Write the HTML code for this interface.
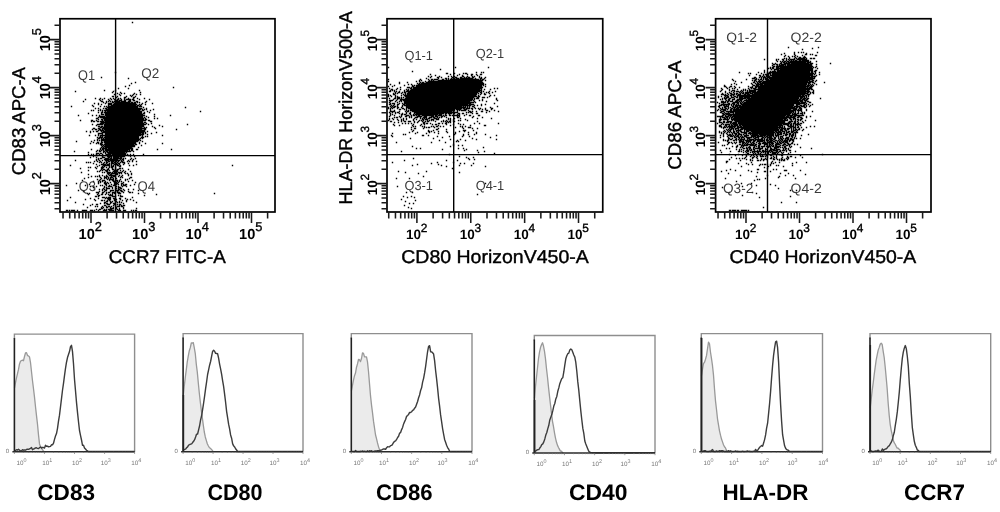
<!DOCTYPE html>
<html lang="en"><head><meta charset="utf-8"><title>Flow cytometry – DC maturation markers</title>
<style>html,body{margin:0;padding:0;background:#fff}body{width:1000px;height:512px;overflow:hidden}svg{display:block;font-family:"Liberation Sans", Arial, Helvetica, sans-serif;will-change:transform;text-rendering:geometricPrecision}</style></head><body>
<svg width="1000" height="512" viewBox="0 0 1000 512">
<rect width="1000" height="512" fill="#fff"/>
<path d="M131.8 22.5h1.4M114.8 72.5h1.4M100.8 77.5h1.4M127.8 78.5h1.4M134.8 82.5h1.4M130.8 83.5h1.4M128.8 85.5h1.4M124.8 86.5h1.4M172.8 87.5h1.4M117.8 88.5h1.4M127.8 88.5h1.4M103.8 90.5h1.4M114.8 90.5h1.4M138.8 90.5h1.4M74.8 91.5h1.4M112.8 91.5h1.4M111.8 92.5h1.4M119.8 92.5h1.4M139.8 92.5h1.4M116.8 93.5h1.4M120.8 93.5h1.4M123.8 93.5h1.4M133.8 93.5h1.4M113.8 94.5h1.4M118.8 94.5h1.4M132.8 94.5h1.4M135.8 94.5h1.4M139.8 94.5h1.4M119.8 95.5h1.4M129.8 95.5h1.4M131.8 95.5h1.4M111.8 96.5h2.4M116.8 96.5h1.4M125.8 96.5h1.4M130.8 96.5h1.4M134.8 96.5h1.4M115.8 97.5h1.4M123.8 97.5h2.4M132.8 97.5h2.4M94.8 98.5h1.4M99.8 98.5h1.4M103.8 98.5h1.4M109.8 98.5h1.4M112.8 98.5h1.4M117.8 98.5h1.4M119.8 98.5h1.4M123.8 98.5h1.4M127.8 98.5h1.4M132.8 98.5h1.4M136.8 98.5h1.4M143.8 98.5h1.4M84.8 99.5h1.4M98.8 99.5h1.4M101.8 99.5h1.4M107.8 99.5h1.4M110.8 99.5h1.4M113.8 99.5h1.4M116.8 99.5h2.4M120.8 99.5h1.4M123.8 99.5h1.4M125.8 99.5h5.4M131.8 99.5h2.4M138.8 99.5h1.4M148.8 99.5h1.4M99.8 100.5h1.4M108.8 100.5h1.4M114.8 100.5h3.4M118.8 100.5h3.4M123.8 100.5h2.4M128.8 100.5h2.4M132.8 100.5h2.4M82.8 101.5h1.4M100.8 101.5h2.4M105.8 101.5h1.4M107.8 101.5h1.4M109.8 101.5h1.4M111.8 101.5h1.4M113.8 101.5h6.4M120.8 101.5h5.4M127.8 101.5h3.4M135.8 101.5h2.4M145.8 101.5h1.4M102.8 102.5h1.4M105.8 102.5h1.4M111.8 102.5h2.4M114.8 102.5h15.4M130.8 102.5h2.4M133.8 102.5h2.4M136.8 102.5h1.4M138.8 102.5h1.4M144.8 102.5h1.4M93.8 103.5h1.4M97.8 103.5h1.4M104.8 103.5h1.4M107.8 103.5h4.4M113.8 103.5h22.4M141.8 103.5h1.4M151.8 103.5h1.4M97.8 104.5h1.4M100.8 104.5h1.4M107.8 104.5h4.4M112.8 104.5h24.4M138.8 104.5h1.4M140.8 104.5h1.4M144.8 104.5h1.4M91.8 105.5h1.4M107.8 105.5h1.4M110.8 105.5h25.4M136.8 105.5h2.4M139.8 105.5h1.4M70.8 106.5h1.4M92.8 106.5h1.4M99.8 106.5h1.4M103.8 106.5h1.4M105.8 106.5h1.4M107.8 106.5h30.4M138.8 106.5h3.4M106.8 107.5h31.4M142.8 107.5h1.4M184.8 107.5h1.4M94.8 108.5h1.4M97.8 108.5h1.4M102.8 108.5h1.4M104.8 108.5h2.4M107.8 108.5h34.4M145.8 108.5h1.4M99.8 109.5h1.4M105.8 109.5h35.4M141.8 109.5h1.4M143.8 109.5h1.4M145.8 109.5h1.4M152.8 109.5h1.4M90.8 110.5h1.4M92.8 110.5h1.4M97.8 110.5h1.4M99.8 110.5h1.4M101.8 110.5h1.4M103.8 110.5h36.4M141.8 110.5h2.4M149.8 110.5h1.4M101.8 111.5h1.4M104.8 111.5h1.4M106.8 111.5h35.4M146.8 111.5h1.4M199.8 111.5h1.4M97.8 112.5h1.4M100.8 112.5h2.4M103.8 112.5h38.4M143.8 112.5h1.4M148.8 112.5h1.4M87.8 113.5h1.4M100.8 113.5h1.4M104.8 113.5h37.4M142.8 113.5h2.4M100.8 114.5h3.4M104.8 114.5h38.4M153.8 114.5h1.4M77.8 115.5h1.4M91.8 115.5h1.4M95.8 115.5h1.4M98.8 115.5h1.4M104.8 115.5h40.4M169.8 115.5h1.4M98.8 116.5h6.4M105.8 116.5h37.4M145.8 116.5h1.4M153.8 116.5h1.4M97.8 117.5h1.4M99.8 117.5h43.4M143.8 117.5h1.4M147.8 117.5h1.4M95.8 118.5h2.4M102.8 118.5h41.4M144.8 118.5h1.4M153.8 118.5h1.4M156.8 118.5h1.4M97.8 119.5h1.4M100.8 119.5h2.4M103.8 119.5h40.4M144.8 119.5h2.4M79.8 120.5h1.4M90.8 120.5h2.4M95.8 120.5h1.4M101.8 120.5h1.4M103.8 120.5h42.4M147.8 120.5h2.4M90.8 121.5h1.4M92.8 121.5h2.4M96.8 121.5h2.4M99.8 121.5h4.4M104.8 121.5h38.4M149.8 121.5h2.4M100.8 122.5h42.4M143.8 122.5h2.4M99.8 123.5h4.4M104.8 123.5h39.4M145.8 123.5h1.4M150.8 123.5h1.4M91.8 124.5h1.4M96.8 124.5h6.4M103.8 124.5h42.4M147.8 124.5h1.4M186.8 124.5h1.4M95.8 125.5h1.4M103.8 125.5h40.4M158.8 125.5h1.4M97.8 126.5h2.4M100.8 126.5h2.4M103.8 126.5h40.4M151.8 126.5h1.4M161.8 126.5h1.4M99.8 127.5h2.4M102.8 127.5h39.4M143.8 127.5h1.4M145.8 127.5h1.4M153.8 127.5h1.4M92.8 128.5h2.4M97.8 128.5h2.4M101.8 128.5h44.4M154.8 128.5h1.4M91.8 129.5h1.4M94.8 129.5h2.4M98.8 129.5h2.4M101.8 129.5h1.4M103.8 129.5h38.4M143.8 129.5h2.4M175.8 129.5h1.4M97.8 130.5h1.4M99.8 130.5h4.4M104.8 130.5h40.4M85.8 131.5h1.4M89.8 131.5h1.4M92.8 131.5h1.4M95.8 131.5h2.4M100.8 131.5h1.4M102.8 131.5h42.4M146.8 131.5h1.4M89.8 132.5h1.4M101.8 132.5h42.4M144.8 132.5h1.4M155.8 132.5h1.4M97.8 133.5h5.4M104.8 133.5h36.4M141.8 133.5h2.4M144.8 133.5h1.4M150.8 133.5h1.4M97.8 134.5h1.4M101.8 134.5h1.4M104.8 134.5h39.4M146.8 134.5h1.4M88.8 135.5h1.4M94.8 135.5h1.4M97.8 135.5h1.4M99.8 135.5h41.4M141.8 135.5h1.4M161.8 135.5h1.4M99.8 136.5h1.4M101.8 136.5h1.4M104.8 136.5h34.4M141.8 136.5h1.4M144.8 136.5h1.4M146.8 136.5h1.4M96.8 137.5h1.4M98.8 137.5h4.4M103.8 137.5h35.4M140.8 137.5h3.4M97.8 138.5h2.4M100.8 138.5h1.4M102.8 138.5h1.4M104.8 138.5h34.4M139.8 138.5h1.4M141.8 138.5h1.4M96.8 139.5h1.4M100.8 139.5h39.4M93.8 140.5h1.4M96.8 140.5h1.4M98.8 140.5h1.4M100.8 140.5h38.4M139.8 140.5h1.4M75.8 141.5h1.4M90.8 141.5h1.4M100.8 141.5h1.4M103.8 141.5h34.4M141.8 141.5h1.4M92.8 142.5h1.4M96.8 142.5h2.4M100.8 142.5h2.4M103.8 142.5h32.4M138.8 142.5h1.4M89.8 143.5h1.4M95.8 143.5h1.4M97.8 143.5h1.4M99.8 143.5h2.4M104.8 143.5h31.4M138.8 143.5h1.4M144.8 143.5h1.4M161.8 143.5h1.4M99.8 144.5h3.4M103.8 144.5h30.4M134.8 144.5h2.4M100.8 145.5h1.4M102.8 145.5h1.4M104.8 145.5h30.4M140.8 145.5h1.4M101.8 146.5h1.4M103.8 146.5h31.4M100.8 147.5h1.4M102.8 147.5h1.4M104.8 147.5h27.4M137.8 147.5h1.4M99.8 148.5h1.4M101.8 148.5h5.4M107.8 148.5h25.4M90.8 149.5h1.4M99.8 149.5h1.4M101.8 149.5h2.4M104.8 149.5h25.4M130.8 149.5h2.4M135.8 149.5h2.4M156.8 149.5h1.4M170.8 149.5h1.4M96.8 150.5h1.4M98.8 150.5h1.4M100.8 150.5h1.4M102.8 150.5h1.4M104.8 150.5h23.4M128.8 150.5h1.4M130.8 150.5h2.4M73.8 151.5h1.4M95.8 151.5h1.4M98.8 151.5h2.4M102.8 151.5h2.4M105.8 151.5h2.4M108.8 151.5h22.4M132.8 151.5h1.4M87.8 152.5h1.4M102.8 152.5h1.4M104.8 152.5h1.4M106.8 152.5h18.4M125.8 152.5h1.4M95.8 153.5h3.4M99.8 153.5h2.4M104.8 153.5h1.4M107.8 153.5h18.4M87.8 154.5h1.4M90.8 154.5h1.4M92.8 154.5h1.4M95.8 154.5h1.4M98.8 154.5h1.4M101.8 154.5h1.4M105.8 154.5h5.4M111.8 154.5h14.4M126.8 154.5h1.4M129.8 154.5h1.4M132.8 154.5h1.4M142.8 154.5h1.4M92.8 155.5h1.4M94.8 155.5h1.4M96.8 155.5h1.4M102.8 155.5h1.4M104.8 155.5h1.4M107.8 155.5h2.4M110.8 155.5h13.4M127.8 155.5h1.4M129.8 155.5h1.4M92.8 156.5h1.4M101.8 156.5h1.4M106.8 156.5h5.4M112.8 156.5h12.4M129.8 156.5h1.4M133.8 156.5h1.4M89.8 157.5h1.4M95.8 157.5h1.4M101.8 157.5h3.4M107.8 157.5h2.4M110.8 157.5h1.4M112.8 157.5h6.4M119.8 157.5h2.4M97.8 158.5h1.4M99.8 158.5h2.4M104.8 158.5h4.4M109.8 158.5h2.4M112.8 158.5h9.4M122.8 158.5h1.4M124.8 158.5h1.4M130.8 158.5h1.4M134.8 158.5h1.4M95.8 159.5h1.4M97.8 159.5h1.4M103.8 159.5h14.4M119.8 159.5h1.4M121.8 159.5h2.4M129.8 159.5h1.4M132.8 159.5h1.4M74.8 160.5h1.4M95.8 160.5h1.4M98.8 160.5h1.4M101.8 160.5h1.4M104.8 160.5h4.4M109.8 160.5h10.4M120.8 160.5h1.4M122.8 160.5h1.4M127.8 160.5h1.4M131.8 160.5h1.4M93.8 161.5h1.4M96.8 161.5h1.4M99.8 161.5h1.4M105.8 161.5h1.4M107.8 161.5h2.4M110.8 161.5h3.4M114.8 161.5h2.4M117.8 161.5h1.4M120.8 161.5h2.4M126.8 161.5h1.4M128.8 161.5h1.4M131.8 161.5h1.4M135.8 161.5h1.4M85.8 162.5h1.4M87.8 162.5h1.4M89.8 162.5h1.4M98.8 162.5h1.4M100.8 162.5h1.4M103.8 162.5h1.4M105.8 162.5h2.4M110.8 162.5h2.4M113.8 162.5h1.4M116.8 162.5h1.4M119.8 162.5h1.4M121.8 162.5h3.4M92.8 163.5h1.4M102.8 163.5h1.4M105.8 163.5h1.4M108.8 163.5h1.4M110.8 163.5h3.4M114.8 163.5h2.4M117.8 163.5h2.4M123.8 163.5h1.4M127.8 163.5h1.4M95.8 164.5h1.4M100.8 164.5h5.4M106.8 164.5h3.4M110.8 164.5h1.4M113.8 164.5h4.4M118.8 164.5h1.4M122.8 164.5h1.4M135.8 164.5h1.4M69.8 165.5h1.4M98.8 165.5h1.4M102.8 165.5h7.4M110.8 165.5h1.4M112.8 165.5h1.4M116.8 165.5h2.4M119.8 165.5h1.4M128.8 165.5h1.4M132.8 165.5h1.4M231.8 165.5h1.4M96.8 166.5h1.4M101.8 166.5h1.4M103.8 166.5h1.4M108.8 166.5h1.4M110.8 166.5h3.4M118.8 166.5h2.4M87.8 167.5h1.4M89.8 167.5h1.4M94.8 167.5h1.4M100.8 167.5h3.4M105.8 167.5h1.4M108.8 167.5h1.4M110.8 167.5h2.4M114.8 167.5h1.4M79.8 168.5h1.4M95.8 168.5h1.4M100.8 168.5h2.4M107.8 168.5h1.4M111.8 168.5h1.4M114.8 168.5h1.4M118.8 168.5h2.4M121.8 168.5h1.4M100.8 169.5h1.4M102.8 169.5h2.4M106.8 169.5h2.4M111.8 169.5h2.4M114.8 169.5h1.4M116.8 169.5h2.4M127.8 169.5h1.4M87.8 170.5h1.4M99.8 170.5h1.4M101.8 170.5h1.4M104.8 170.5h3.4M108.8 170.5h1.4M113.8 170.5h4.4M119.8 170.5h1.4M122.8 170.5h1.4M96.8 171.5h1.4M98.8 171.5h1.4M105.8 171.5h2.4M112.8 171.5h2.4M115.8 171.5h2.4M121.8 171.5h1.4M124.8 171.5h1.4M129.8 171.5h1.4M80.8 172.5h1.4M101.8 172.5h1.4M103.8 172.5h1.4M106.8 172.5h4.4M111.8 172.5h1.4M113.8 172.5h1.4M115.8 172.5h1.4M117.8 172.5h4.4M123.8 172.5h1.4M106.8 173.5h3.4M110.8 173.5h4.4M115.8 173.5h2.4M118.8 173.5h1.4M120.8 173.5h1.4M124.8 173.5h1.4M126.8 173.5h1.4M130.8 173.5h1.4M87.8 174.5h1.4M107.8 174.5h1.4M109.8 174.5h2.4M115.8 174.5h2.4M127.8 174.5h1.4M130.8 174.5h1.4M98.8 175.5h1.4M101.8 175.5h1.4M105.8 175.5h1.4M108.8 175.5h6.4M118.8 175.5h1.4M121.8 175.5h1.4M127.8 175.5h1.4M90.8 176.5h1.4M94.8 176.5h1.4M96.8 176.5h1.4M98.8 176.5h1.4M103.8 176.5h1.4M105.8 176.5h2.4M110.8 176.5h1.4M112.8 176.5h3.4M117.8 176.5h1.4M120.8 176.5h1.4M87.8 177.5h1.4M99.8 177.5h1.4M103.8 177.5h3.4M107.8 177.5h1.4M109.8 177.5h3.4M119.8 177.5h1.4M121.8 177.5h1.4M129.8 177.5h2.4M83.8 178.5h1.4M100.8 178.5h1.4M103.8 178.5h1.4M105.8 178.5h1.4M107.8 178.5h1.4M109.8 178.5h1.4M112.8 178.5h1.4M115.8 178.5h1.4M128.8 178.5h1.4M96.8 179.5h1.4M99.8 179.5h1.4M106.8 179.5h1.4M108.8 179.5h5.4M119.8 179.5h1.4M124.8 179.5h1.4M126.8 179.5h1.4M81.8 180.5h1.4M98.8 180.5h1.4M101.8 180.5h3.4M108.8 180.5h1.4M111.8 180.5h2.4M114.8 180.5h3.4M118.8 180.5h1.4M124.8 180.5h1.4M131.8 180.5h1.4M92.8 181.5h1.4M97.8 181.5h1.4M99.8 181.5h1.4M101.8 181.5h1.4M104.8 181.5h1.4M112.8 181.5h3.4M116.8 181.5h1.4M118.8 181.5h1.4M120.8 181.5h1.4M127.8 181.5h1.4M97.8 182.5h1.4M99.8 182.5h1.4M103.8 182.5h2.4M106.8 182.5h1.4M109.8 182.5h1.4M113.8 182.5h3.4M117.8 182.5h1.4M122.8 182.5h1.4M134.8 182.5h1.4M75.8 183.5h1.4M97.8 183.5h1.4M103.8 183.5h3.4M107.8 183.5h1.4M113.8 183.5h1.4M115.8 183.5h2.4M120.8 183.5h2.4M88.8 184.5h1.4M104.8 184.5h2.4M110.8 184.5h1.4M113.8 184.5h3.4M117.8 184.5h1.4M120.8 184.5h1.4M122.8 184.5h1.4M124.8 184.5h2.4M133.8 184.5h1.4M65.8 185.5h1.4M84.8 185.5h1.4M99.8 185.5h1.4M101.8 185.5h1.4M105.8 185.5h1.4M108.8 185.5h1.4M112.8 185.5h2.4M120.8 185.5h1.4M122.8 185.5h3.4M129.8 185.5h1.4M89.8 186.5h1.4M92.8 186.5h1.4M95.8 186.5h1.4M103.8 186.5h1.4M107.8 186.5h4.4M115.8 186.5h1.4M117.8 186.5h1.4M121.8 186.5h1.4M125.8 186.5h1.4M92.8 187.5h1.4M103.8 187.5h1.4M105.8 187.5h1.4M111.8 187.5h1.4M114.8 187.5h1.4M117.8 187.5h3.4M102.8 188.5h1.4M105.8 188.5h4.4M111.8 188.5h1.4M114.8 188.5h2.4M117.8 188.5h1.4M119.8 188.5h2.4M93.8 189.5h1.4M98.8 189.5h1.4M101.8 189.5h1.4M103.8 189.5h1.4M105.8 189.5h1.4M114.8 189.5h1.4M117.8 189.5h2.4M122.8 189.5h1.4M127.8 189.5h1.4M132.8 189.5h1.4M77.8 190.5h1.4M101.8 190.5h1.4M104.8 190.5h2.4M109.8 190.5h4.4M115.8 190.5h3.4M119.8 190.5h2.4M123.8 190.5h1.4M137.8 190.5h1.4M82.8 191.5h1.4M98.8 191.5h1.4M103.8 191.5h1.4M109.8 191.5h1.4M114.8 191.5h1.4M116.8 191.5h1.4M120.8 191.5h2.4M127.8 191.5h1.4M95.8 192.5h3.4M101.8 192.5h2.4M105.8 192.5h1.4M107.8 192.5h2.4M111.8 192.5h3.4M116.8 192.5h3.4M122.8 192.5h1.4M128.8 192.5h2.4M131.8 192.5h1.4M86.8 193.5h1.4M88.8 193.5h1.4M97.8 193.5h1.4M101.8 193.5h1.4M105.8 193.5h1.4M111.8 193.5h1.4M113.8 193.5h1.4M117.8 193.5h3.4M137.8 193.5h1.4M213.8 193.5h1.4M87.8 194.5h1.4M96.8 194.5h1.4M100.8 194.5h2.4M104.8 194.5h1.4M107.8 194.5h1.4M109.8 194.5h1.4M111.8 194.5h1.4M155.8 194.5h1.4M97.8 195.5h2.4M108.8 195.5h4.4M117.8 195.5h1.4M119.8 195.5h1.4M143.8 195.5h1.4M94.8 196.5h2.4M97.8 196.5h1.4M111.8 196.5h4.4M119.8 196.5h3.4M69.8 197.5h1.4M101.8 197.5h3.4M105.8 197.5h1.4M107.8 197.5h3.4M131.8 197.5h1.4M89.8 198.5h1.4M97.8 198.5h1.4M104.8 198.5h1.4M106.8 198.5h4.4M112.8 198.5h3.4M118.8 198.5h2.4M124.8 198.5h1.4M84.8 199.5h1.4M93.8 199.5h1.4M107.8 199.5h3.4M113.8 199.5h1.4M115.8 199.5h1.4M119.8 199.5h1.4M126.8 199.5h1.4M129.8 199.5h1.4M66.8 200.5h1.4M94.8 200.5h1.4M100.8 200.5h2.4M103.8 200.5h1.4M106.8 200.5h1.4M108.8 200.5h1.4M113.8 200.5h2.4M121.8 200.5h1.4M125.8 200.5h1.4M132.8 200.5h1.4M105.8 201.5h2.4M109.8 201.5h1.4M111.8 201.5h1.4M114.8 201.5h2.4M118.8 201.5h1.4M125.8 201.5h1.4M74.8 202.5h1.4M103.8 202.5h2.4M109.8 202.5h2.4M114.8 202.5h1.4M116.8 202.5h1.4M118.8 202.5h1.4M120.8 202.5h1.4M135.8 202.5h1.4M99.8 203.5h1.4M103.8 203.5h1.4M105.8 203.5h2.4M109.8 203.5h1.4M112.8 203.5h2.4M122.8 203.5h1.4M82.8 204.5h1.4M91.8 204.5h1.4M95.8 204.5h2.4M106.8 204.5h3.4M113.8 204.5h2.4M116.8 204.5h1.4M118.8 204.5h2.4M89.8 205.5h1.4M103.8 205.5h2.4M112.8 205.5h1.4M114.8 205.5h1.4M118.8 205.5h1.4M120.8 205.5h1.4M122.8 205.5h2.4M94.8 206.5h1.4M96.8 206.5h1.4M101.8 206.5h1.4M105.8 206.5h1.4M107.8 206.5h2.4M110.8 206.5h1.4M114.8 206.5h1.4M116.8 206.5h3.4M120.8 206.5h2.4M86.8 207.5h1.4M100.8 207.5h1.4M102.8 207.5h1.4M105.8 207.5h2.4M109.8 207.5h1.4M112.8 207.5h1.4M115.8 207.5h1.4M122.8 207.5h1.4M100.8 208.5h2.4M109.8 208.5h4.4M115.8 208.5h1.4M118.8 208.5h1.4M122.8 208.5h1.4M135.8 208.5h1.4M95.8 209.5h1.4M98.8 209.5h2.4M103.8 209.5h1.4M105.8 209.5h1.4M107.8 209.5h4.4M114.8 209.5h1.4M116.8 209.5h1.4M118.8 209.5h1.4M65.8 210.5h2.4M68.8 210.5h1.4M70.8 210.5h4.4M76.8 210.5h1.4M81.8 210.5h5.4M89.8 210.5h3.4M93.8 210.5h1.4M97.8 210.5h1.4M102.8 210.5h4.4M108.8 210.5h5.4M117.8 210.5h3.4M122.8 210.5h3.4M130.8 210.5h1.4M132.8 210.5h1.4M134.8 210.5h2.4" stroke="#000" stroke-width="1.45" fill="none"/>
<text x="78" y="79.5" font-size="14" fill="#3a3a3a" textLength="17" lengthAdjust="spacingAndGlyphs">Q1</text>
<text x="141.2" y="77.5" font-size="14" fill="#3a3a3a" textLength="18" lengthAdjust="spacingAndGlyphs">Q2</text>
<text x="78.7" y="191.3" font-size="14" fill="#3a3a3a" textLength="17.3" lengthAdjust="spacingAndGlyphs">Q3</text>
<text x="137.5" y="191.3" font-size="14" fill="#3a3a3a" textLength="17.5" lengthAdjust="spacingAndGlyphs">Q4</text>
<rect x="60" y="18.75" width="215" height="193.25" fill="none" stroke="#000" stroke-width="1.7"/>
<path d="M115.6 18.75V212M60 155.6H275" stroke="#000" stroke-width="1.4" fill="none"/>
<path d="M91 212v11M144.5 212v11M198 212v11M251.5 212v11M63.03 212v6.5M69.71 212v6.5M74.89 212v6.5M79.13 212v6.5M82.71 212v6.5M85.82 212v6.5M88.55 212v6.5M107.11 212v6.5M116.53 212v6.5M123.21 212v6.5M128.39 212v6.5M132.63 212v6.5M136.21 212v6.5M139.32 212v6.5M142.05 212v6.5M160.61 212v6.5M170.03 212v6.5M176.71 212v6.5M181.89 212v6.5M186.13 212v6.5M189.71 212v6.5M192.82 212v6.5M195.55 212v6.5M214.11 212v6.5M223.53 212v6.5M230.21 212v6.5M235.39 212v6.5M239.63 212v6.5M243.21 212v6.5M246.32 212v6.5M249.05 212v6.5M267.61 212v6.5M60 183.6h-10M60 135.6h-10M60 87.6h-10M60 39.6h-10M60 208.7h-5.5M60 202.7h-5.5M60 198.05h-5.5M60 194.25h-5.5M60 191.04h-5.5M60 188.25h-5.5M60 185.8h-5.5M60 169.15h-5.5M60 160.7h-5.5M60 154.7h-5.5M60 150.05h-5.5M60 146.25h-5.5M60 143.04h-5.5M60 140.25h-5.5M60 137.8h-5.5M60 121.15h-5.5M60 112.7h-5.5M60 106.7h-5.5M60 102.05h-5.5M60 98.25h-5.5M60 95.04h-5.5M60 92.25h-5.5M60 89.8h-5.5M60 73.15h-5.5M60 64.7h-5.5M60 58.7h-5.5M60 54.05h-5.5M60 50.25h-5.5M60 47.04h-5.5M60 44.25h-5.5M60 41.8h-5.5M60 25.15h-5.5" stroke="#1a1a1a" stroke-width="1.55" fill="none"/>
<text x="78.61" y="239.4" font-size="14.6" font-weight="bold">10<tspan dy="-8.18" dx="-0.2" font-size="12.85" font-weight="normal" stroke="#000" stroke-width="0.35">2</tspan></text>
<text x="132.1" y="239.4" font-size="14.6" font-weight="bold">10<tspan dy="-8.18" dx="-0.2" font-size="12.85" font-weight="normal" stroke="#000" stroke-width="0.35">3</tspan></text>
<text x="185.6" y="239.4" font-size="14.6" font-weight="bold">10<tspan dy="-8.18" dx="-0.2" font-size="12.85" font-weight="normal" stroke="#000" stroke-width="0.35">4</tspan></text>
<text x="239.1" y="239.4" font-size="14.6" font-weight="bold">10<tspan dy="-8.18" dx="-0.2" font-size="12.85" font-weight="normal" stroke="#000" stroke-width="0.35">5</tspan></text>
<text transform="translate(49.5 195.29) rotate(-90)" font-size="14.6" font-weight="bold">10<tspan dy="-8.18" dx="-0.2" font-size="12.85" font-weight="normal" stroke="#000" stroke-width="0.35">2</tspan></text>
<text transform="translate(49.5 147.29) rotate(-90)" font-size="14.6" font-weight="bold">10<tspan dy="-8.18" dx="-0.2" font-size="12.85" font-weight="normal" stroke="#000" stroke-width="0.35">3</tspan></text>
<text transform="translate(49.5 99.29) rotate(-90)" font-size="14.6" font-weight="bold">10<tspan dy="-8.18" dx="-0.2" font-size="12.85" font-weight="normal" stroke="#000" stroke-width="0.35">4</tspan></text>
<text transform="translate(49.5 51.29) rotate(-90)" font-size="14.6" font-weight="bold">10<tspan dy="-8.18" dx="-0.2" font-size="12.85" font-weight="normal" stroke="#000" stroke-width="0.35">5</tspan></text>
<text x="108.75" y="263.3" font-size="18.5" textLength="117" lengthAdjust="spacingAndGlyphs" stroke="#000" stroke-width="0.4">CCR7 FITC-A</text>
<text transform="translate(25.2 175.2) rotate(-90)" font-size="18.5" textLength="108.2" lengthAdjust="spacingAndGlyphs" stroke="#000" stroke-width="0.4">CD83 APC-A</text>
<path d="M387.8 67.5h1.4M454.8 67.5h1.4M487.8 67.5h1.4M439.8 69.5h1.4M411.8 71.5h1.4M475.8 72.5h1.4M480.8 72.5h1.4M482.8 72.5h1.4M445.8 73.5h2.4M453.8 73.5h1.4M462.8 73.5h1.4M464.8 73.5h2.4M429.8 74.5h1.4M449.8 74.5h1.4M458.8 74.5h1.4M466.8 74.5h1.4M470.8 74.5h2.4M475.8 74.5h1.4M479.8 74.5h2.4M434.8 75.5h1.4M456.8 75.5h1.4M461.8 75.5h1.4M470.8 75.5h1.4M476.8 75.5h1.4M427.8 76.5h1.4M430.8 76.5h1.4M438.8 76.5h1.4M447.8 76.5h1.4M450.8 76.5h1.4M453.8 76.5h1.4M461.8 76.5h2.4M466.8 76.5h1.4M471.8 76.5h1.4M473.8 76.5h1.4M478.8 76.5h1.4M429.8 77.5h1.4M436.8 77.5h2.4M440.8 77.5h1.4M451.8 77.5h2.4M454.8 77.5h2.4M459.8 77.5h2.4M463.8 77.5h1.4M465.8 77.5h1.4M467.8 77.5h2.4M471.8 77.5h2.4M478.8 77.5h1.4M480.8 77.5h1.4M484.8 77.5h1.4M425.8 78.5h1.4M437.8 78.5h1.4M444.8 78.5h2.4M447.8 78.5h1.4M450.8 78.5h1.4M452.8 78.5h2.4M455.8 78.5h3.4M459.8 78.5h13.4M474.8 78.5h1.4M479.8 78.5h2.4M483.8 78.5h1.4M387.8 79.5h1.4M419.8 79.5h1.4M427.8 79.5h1.4M430.8 79.5h2.4M433.8 79.5h4.4M441.8 79.5h2.4M445.8 79.5h1.4M447.8 79.5h1.4M449.8 79.5h29.4M479.8 79.5h1.4M481.8 79.5h2.4M418.8 80.5h1.4M420.8 80.5h1.4M428.8 80.5h1.4M430.8 80.5h1.4M432.8 80.5h1.4M437.8 80.5h45.4M484.8 80.5h1.4M387.8 81.5h1.4M415.8 81.5h1.4M418.8 81.5h1.4M424.8 81.5h1.4M427.8 81.5h54.4M398.8 82.5h1.4M406.8 82.5h1.4M419.8 82.5h1.4M421.8 82.5h2.4M425.8 82.5h57.4M398.8 83.5h1.4M416.8 83.5h1.4M418.8 83.5h1.4M420.8 83.5h63.4M389.8 84.5h1.4M407.8 84.5h1.4M410.8 84.5h1.4M417.8 84.5h66.4M484.8 84.5h1.4M393.8 85.5h1.4M403.8 85.5h1.4M411.8 85.5h1.4M413.8 85.5h1.4M415.8 85.5h66.4M482.8 85.5h1.4M387.8 86.5h1.4M391.8 86.5h1.4M411.8 86.5h2.4M415.8 86.5h66.4M484.8 86.5h1.4M399.8 87.5h1.4M406.8 87.5h3.4M410.8 87.5h1.4M412.8 87.5h70.4M388.8 88.5h1.4M396.8 88.5h1.4M409.8 88.5h2.4M412.8 88.5h69.4M493.8 88.5h1.4M496.8 88.5h1.4M390.8 89.5h2.4M395.8 89.5h1.4M399.8 89.5h1.4M405.8 89.5h1.4M407.8 89.5h1.4M410.8 89.5h69.4M480.8 89.5h1.4M483.8 89.5h1.4M489.8 89.5h1.4M389.8 90.5h1.4M391.8 90.5h1.4M393.8 90.5h1.4M403.8 90.5h1.4M406.8 90.5h2.4M409.8 90.5h72.4M388.8 91.5h2.4M393.8 91.5h1.4M395.8 91.5h1.4M398.8 91.5h1.4M403.8 91.5h1.4M405.8 91.5h74.4M480.8 91.5h1.4M482.8 91.5h1.4M488.8 91.5h1.4M494.8 91.5h1.4M394.8 92.5h1.4M397.8 92.5h2.4M401.8 92.5h1.4M403.8 92.5h2.4M407.8 92.5h70.4M479.8 92.5h2.4M485.8 92.5h1.4M487.8 92.5h1.4M491.8 92.5h1.4M392.8 93.5h1.4M394.8 93.5h1.4M396.8 93.5h1.4M400.8 93.5h1.4M404.8 93.5h1.4M406.8 93.5h70.4M477.8 93.5h1.4M480.8 93.5h1.4M483.8 93.5h1.4M488.8 93.5h1.4M387.8 94.5h1.4M392.8 94.5h2.4M402.8 94.5h1.4M404.8 94.5h1.4M406.8 94.5h70.4M479.8 94.5h1.4M483.8 94.5h2.4M387.8 95.5h1.4M389.8 95.5h1.4M394.8 95.5h1.4M400.8 95.5h1.4M403.8 95.5h72.4M477.8 95.5h1.4M489.8 95.5h1.4M493.8 95.5h1.4M387.8 96.5h1.4M390.8 96.5h1.4M394.8 96.5h1.4M396.8 96.5h1.4M404.8 96.5h72.4M477.8 96.5h2.4M488.8 96.5h1.4M394.8 97.5h1.4M396.8 97.5h3.4M400.8 97.5h1.4M402.8 97.5h1.4M405.8 97.5h68.4M476.8 97.5h2.4M481.8 97.5h3.4M486.8 97.5h1.4M388.8 98.5h1.4M393.8 98.5h2.4M396.8 98.5h3.4M400.8 98.5h1.4M404.8 98.5h68.4M473.8 98.5h1.4M475.8 98.5h3.4M495.8 98.5h1.4M392.8 99.5h1.4M396.8 99.5h1.4M399.8 99.5h73.4M473.8 99.5h1.4M481.8 99.5h1.4M495.8 99.5h1.4M388.8 100.5h4.4M395.8 100.5h1.4M399.8 100.5h2.4M402.8 100.5h69.4M472.8 100.5h1.4M478.8 100.5h1.4M481.8 100.5h1.4M496.8 100.5h1.4M389.8 101.5h1.4M394.8 101.5h1.4M398.8 101.5h1.4M400.8 101.5h1.4M403.8 101.5h66.4M473.8 101.5h1.4M485.8 101.5h1.4M388.8 102.5h1.4M396.8 102.5h1.4M403.8 102.5h70.4M474.8 102.5h1.4M389.8 103.5h1.4M391.8 103.5h3.4M398.8 103.5h1.4M401.8 103.5h1.4M403.8 103.5h67.4M493.8 103.5h1.4M388.8 104.5h2.4M393.8 104.5h1.4M396.8 104.5h2.4M402.8 104.5h2.4M405.8 104.5h62.4M468.8 104.5h5.4M480.8 104.5h1.4M484.8 104.5h1.4M390.8 105.5h1.4M392.8 105.5h1.4M396.8 105.5h1.4M401.8 105.5h1.4M403.8 105.5h67.4M473.8 105.5h1.4M476.8 105.5h1.4M480.8 105.5h1.4M389.8 106.5h1.4M391.8 106.5h1.4M393.8 106.5h2.4M396.8 106.5h1.4M401.8 106.5h1.4M405.8 106.5h56.4M462.8 106.5h1.4M464.8 106.5h1.4M466.8 106.5h1.4M468.8 106.5h1.4M471.8 106.5h2.4M496.8 106.5h1.4M387.8 107.5h1.4M390.8 107.5h1.4M392.8 107.5h2.4M396.8 107.5h2.4M400.8 107.5h1.4M405.8 107.5h60.4M466.8 107.5h1.4M468.8 107.5h1.4M473.8 107.5h1.4M489.8 107.5h1.4M387.8 108.5h1.4M389.8 108.5h1.4M391.8 108.5h1.4M396.8 108.5h1.4M401.8 108.5h2.4M405.8 108.5h1.4M407.8 108.5h54.4M462.8 108.5h2.4M465.8 108.5h4.4M470.8 108.5h2.4M474.8 108.5h1.4M477.8 108.5h1.4M479.8 108.5h1.4M484.8 108.5h1.4M490.8 108.5h2.4M389.8 109.5h1.4M398.8 109.5h2.4M403.8 109.5h1.4M405.8 109.5h1.4M409.8 109.5h45.4M455.8 109.5h5.4M463.8 109.5h3.4M471.8 109.5h1.4M478.8 109.5h1.4M481.8 109.5h1.4M484.8 109.5h1.4M490.8 109.5h1.4M389.8 110.5h1.4M393.8 110.5h1.4M405.8 110.5h1.4M407.8 110.5h1.4M409.8 110.5h45.4M456.8 110.5h1.4M458.8 110.5h1.4M460.8 110.5h5.4M467.8 110.5h1.4M485.8 110.5h2.4M493.8 110.5h1.4M389.8 111.5h5.4M398.8 111.5h1.4M404.8 111.5h1.4M406.8 111.5h2.4M411.8 111.5h40.4M452.8 111.5h1.4M456.8 111.5h1.4M468.8 111.5h2.4M471.8 111.5h1.4M475.8 111.5h1.4M480.8 111.5h2.4M488.8 111.5h1.4M497.8 111.5h1.4M388.8 112.5h1.4M391.8 112.5h1.4M394.8 112.5h1.4M396.8 112.5h2.4M405.8 112.5h1.4M409.8 112.5h1.4M413.8 112.5h44.4M465.8 112.5h1.4M467.8 112.5h1.4M469.8 112.5h2.4M485.8 112.5h1.4M389.8 113.5h1.4M394.8 113.5h1.4M398.8 113.5h1.4M401.8 113.5h1.4M405.8 113.5h1.4M408.8 113.5h2.4M413.8 113.5h1.4M415.8 113.5h28.4M444.8 113.5h2.4M447.8 113.5h4.4M452.8 113.5h2.4M457.8 113.5h2.4M461.8 113.5h2.4M471.8 113.5h1.4M475.8 113.5h2.4M389.8 114.5h1.4M391.8 114.5h1.4M400.8 114.5h2.4M403.8 114.5h2.4M409.8 114.5h1.4M412.8 114.5h1.4M414.8 114.5h23.4M438.8 114.5h3.4M444.8 114.5h1.4M448.8 114.5h1.4M456.8 114.5h1.4M458.8 114.5h1.4M465.8 114.5h1.4M389.8 115.5h1.4M393.8 115.5h1.4M400.8 115.5h1.4M405.8 115.5h3.4M410.8 115.5h1.4M412.8 115.5h2.4M415.8 115.5h1.4M417.8 115.5h2.4M421.8 115.5h12.4M434.8 115.5h2.4M437.8 115.5h4.4M442.8 115.5h1.4M444.8 115.5h2.4M448.8 115.5h2.4M451.8 115.5h8.4M463.8 115.5h1.4M468.8 115.5h2.4M477.8 115.5h2.4M388.8 116.5h1.4M398.8 116.5h1.4M400.8 116.5h1.4M404.8 116.5h2.4M408.8 116.5h1.4M410.8 116.5h1.4M416.8 116.5h5.4M423.8 116.5h3.4M430.8 116.5h3.4M434.8 116.5h3.4M440.8 116.5h2.4M443.8 116.5h1.4M456.8 116.5h1.4M458.8 116.5h1.4M472.8 116.5h1.4M393.8 117.5h1.4M395.8 117.5h2.4M399.8 117.5h1.4M408.8 117.5h1.4M410.8 117.5h1.4M414.8 117.5h3.4M419.8 117.5h1.4M422.8 117.5h4.4M428.8 117.5h3.4M432.8 117.5h2.4M436.8 117.5h1.4M438.8 117.5h1.4M440.8 117.5h1.4M445.8 117.5h1.4M456.8 117.5h2.4M471.8 117.5h1.4M481.8 117.5h1.4M388.8 118.5h1.4M391.8 118.5h1.4M402.8 118.5h1.4M405.8 118.5h1.4M413.8 118.5h1.4M419.8 118.5h1.4M421.8 118.5h1.4M423.8 118.5h1.4M425.8 118.5h1.4M427.8 118.5h2.4M433.8 118.5h3.4M437.8 118.5h1.4M447.8 118.5h1.4M449.8 118.5h1.4M453.8 118.5h1.4M459.8 118.5h1.4M476.8 118.5h1.4M490.8 118.5h1.4M388.8 119.5h1.4M392.8 119.5h1.4M396.8 119.5h1.4M400.8 119.5h1.4M402.8 119.5h1.4M405.8 119.5h1.4M412.8 119.5h1.4M415.8 119.5h1.4M421.8 119.5h2.4M424.8 119.5h3.4M430.8 119.5h3.4M435.8 119.5h3.4M447.8 119.5h1.4M449.8 119.5h1.4M452.8 119.5h1.4M464.8 119.5h1.4M387.8 120.5h1.4M397.8 120.5h1.4M400.8 120.5h1.4M402.8 120.5h1.4M412.8 120.5h1.4M418.8 120.5h1.4M420.8 120.5h1.4M422.8 120.5h1.4M426.8 120.5h1.4M428.8 120.5h1.4M430.8 120.5h1.4M432.8 120.5h1.4M442.8 120.5h1.4M445.8 120.5h1.4M449.8 120.5h1.4M452.8 120.5h1.4M457.8 120.5h1.4M459.8 120.5h1.4M466.8 120.5h1.4M389.8 121.5h2.4M400.8 121.5h1.4M403.8 121.5h2.4M407.8 121.5h3.4M413.8 121.5h1.4M417.8 121.5h1.4M421.8 121.5h1.4M424.8 121.5h1.4M426.8 121.5h2.4M434.8 121.5h1.4M440.8 121.5h1.4M442.8 121.5h1.4M444.8 121.5h1.4M446.8 121.5h1.4M448.8 121.5h2.4M452.8 121.5h2.4M476.8 121.5h1.4M393.8 122.5h1.4M397.8 122.5h1.4M413.8 122.5h1.4M416.8 122.5h1.4M422.8 122.5h2.4M445.8 122.5h1.4M447.8 122.5h1.4M449.8 122.5h1.4M401.8 123.5h1.4M404.8 123.5h1.4M407.8 123.5h1.4M410.8 123.5h1.4M422.8 123.5h2.4M425.8 123.5h2.4M429.8 123.5h1.4M437.8 123.5h2.4M441.8 123.5h1.4M444.8 123.5h2.4M457.8 123.5h1.4M473.8 123.5h1.4M478.8 123.5h1.4M497.8 123.5h1.4M392.8 124.5h1.4M412.8 124.5h1.4M420.8 124.5h1.4M423.8 124.5h1.4M431.8 124.5h1.4M434.8 124.5h2.4M445.8 124.5h1.4M452.8 124.5h1.4M459.8 124.5h1.4M462.8 124.5h1.4M393.8 125.5h1.4M398.8 125.5h1.4M411.8 125.5h1.4M419.8 125.5h1.4M437.8 125.5h1.4M449.8 125.5h1.4M469.8 125.5h1.4M483.8 125.5h2.4M412.8 126.5h1.4M414.8 126.5h1.4M421.8 126.5h1.4M423.8 126.5h1.4M430.8 126.5h1.4M432.8 126.5h1.4M435.8 126.5h2.4M439.8 126.5h1.4M442.8 126.5h1.4M459.8 126.5h1.4M461.8 126.5h1.4M464.8 126.5h1.4M410.8 127.5h1.4M423.8 127.5h1.4M425.8 127.5h1.4M427.8 127.5h2.4M433.8 127.5h1.4M454.8 127.5h1.4M461.8 127.5h1.4M467.8 127.5h3.4M413.8 128.5h2.4M422.8 128.5h1.4M437.8 128.5h1.4M462.8 128.5h1.4M471.8 128.5h1.4M476.8 128.5h1.4M410.8 129.5h1.4M435.8 129.5h2.4M445.8 129.5h1.4M412.8 130.5h1.4M427.8 130.5h1.4M432.8 130.5h1.4M462.8 130.5h3.4M472.8 130.5h1.4M411.8 131.5h1.4M427.8 131.5h2.4M430.8 131.5h1.4M437.8 131.5h1.4M445.8 131.5h1.4M458.8 131.5h1.4M463.8 131.5h1.4M408.8 132.5h1.4M416.8 132.5h1.4M428.8 132.5h1.4M433.8 132.5h1.4M446.8 132.5h1.4M454.8 132.5h1.4M467.8 132.5h1.4M475.8 132.5h1.4M391.8 133.5h1.4M414.8 133.5h1.4M425.8 133.5h1.4M437.8 133.5h1.4M454.8 133.5h1.4M475.8 133.5h1.4M402.8 134.5h1.4M404.8 134.5h1.4M453.8 134.5h1.4M462.8 134.5h1.4M467.8 134.5h1.4M473.8 134.5h1.4M484.8 134.5h1.4M390.8 135.5h1.4M421.8 135.5h2.4M427.8 135.5h1.4M462.8 135.5h1.4M495.8 135.5h1.4M391.8 136.5h1.4M436.8 136.5h1.4M448.8 136.5h1.4M461.8 136.5h1.4M468.8 136.5h1.4M441.8 137.5h1.4M489.8 137.5h1.4M409.8 138.5h1.4M432.8 138.5h1.4M471.8 138.5h1.4M449.8 139.5h1.4M459.8 139.5h1.4M475.8 139.5h1.4M495.8 139.5h1.4M438.8 140.5h1.4M456.8 140.5h1.4M464.8 140.5h1.4M455.8 141.5h1.4M457.8 141.5h1.4M395.8 142.5h1.4M430.8 142.5h1.4M444.8 142.5h1.4M452.8 144.5h1.4M452.8 145.5h1.4M457.8 145.5h1.4M461.8 145.5h1.4M411.8 146.5h1.4M449.8 146.5h1.4M482.8 147.5h1.4M415.8 148.5h1.4M419.8 148.5h1.4M457.8 148.5h1.4M462.8 148.5h1.4M441.8 149.5h1.4M465.8 149.5h1.4M463.8 150.5h1.4M476.8 150.5h1.4M400.8 151.5h1.4M483.8 151.5h1.4M477.8 152.5h1.4M493.8 153.5h1.4M448.8 154.5h1.4M458.8 156.5h1.4M465.8 157.5h1.4M472.8 157.5h1.4M412.8 158.5h1.4M467.8 158.5h1.4M468.8 159.5h1.4M473.8 159.5h1.4M403.8 160.5h1.4M445.8 160.5h1.4M456.8 160.5h1.4M391.8 162.5h1.4M436.8 162.5h1.4M452.8 162.5h1.4M430.8 163.5h1.4M459.8 163.5h1.4M463.8 163.5h1.4M472.8 163.5h1.4M416.8 164.5h1.4M437.8 164.5h1.4M411.8 165.5h1.4M440.8 165.5h1.4M458.8 165.5h1.4M470.8 165.5h1.4M445.8 166.5h1.4M484.8 166.5h1.4M451.8 168.5h1.4M397.8 171.5h1.4M425.8 171.5h1.4M404.8 172.5h1.4M458.8 172.5h1.4M417.8 173.5h1.4M422.8 176.5h1.4M395.8 178.5h1.4M408.8 178.5h1.4M484.8 183.5h1.4M396.8 186.5h1.4M405.8 192.5h1.4M411.8 192.5h1.4M476.8 194.5h1.4M402.8 196.5h1.4M410.8 196.5h1.4M406.8 197.5h1.4M413.8 197.5h1.4M400.8 199.5h1.4M414.8 200.5h1.4M404.8 201.5h1.4M408.8 203.5h1.4M412.8 203.5h1.4M403.8 205.5h1.4M407.8 207.5h1.4M410.8 208.5h1.4" stroke="#000" stroke-width="1.45" fill="none"/>
<text x="404.5" y="59.6" font-size="13.2" fill="#3a3a3a" textLength="28.5" lengthAdjust="spacingAndGlyphs">Q1-1</text>
<text x="475.7" y="57.6" font-size="13.2" fill="#3a3a3a" textLength="28.5" lengthAdjust="spacingAndGlyphs">Q2-1</text>
<text x="404.5" y="190.1" font-size="13.2" fill="#3a3a3a" textLength="28.5" lengthAdjust="spacingAndGlyphs">Q3-1</text>
<text x="475.7" y="190.1" font-size="13.2" fill="#3a3a3a" textLength="28.5" lengthAdjust="spacingAndGlyphs">Q4-1</text>
<rect x="387" y="18.75" width="215.75" height="193.25" fill="none" stroke="#000" stroke-width="1.7"/>
<path d="M453.7 18.75V212M387 154.6H602.75" stroke="#000" stroke-width="1.4" fill="none"/>
<path d="M416.9 212v11M470.77 212v11M524.64 212v11M578.51 212v11M388.73 212v6.5M395.46 212v6.5M400.68 212v6.5M404.95 212v6.5M408.56 212v6.5M411.68 212v6.5M414.44 212v6.5M433.12 212v6.5M442.6 212v6.5M449.33 212v6.5M454.55 212v6.5M458.82 212v6.5M462.43 212v6.5M465.55 212v6.5M468.31 212v6.5M486.99 212v6.5M496.47 212v6.5M503.2 212v6.5M508.42 212v6.5M512.69 212v6.5M516.3 212v6.5M519.42 212v6.5M522.18 212v6.5M540.86 212v6.5M550.34 212v6.5M557.07 212v6.5M562.29 212v6.5M566.56 212v6.5M570.17 212v6.5M573.29 212v6.5M576.05 212v6.5M594.73 212v6.5M387 183.6h-10M387 135.6h-10M387 87.6h-10M387 39.6h-10M387 208.7h-5.5M387 202.7h-5.5M387 198.05h-5.5M387 194.25h-5.5M387 191.04h-5.5M387 188.25h-5.5M387 185.8h-5.5M387 169.15h-5.5M387 160.7h-5.5M387 154.7h-5.5M387 150.05h-5.5M387 146.25h-5.5M387 143.04h-5.5M387 140.25h-5.5M387 137.8h-5.5M387 121.15h-5.5M387 112.7h-5.5M387 106.7h-5.5M387 102.05h-5.5M387 98.25h-5.5M387 95.04h-5.5M387 92.25h-5.5M387 89.8h-5.5M387 73.15h-5.5M387 64.7h-5.5M387 58.7h-5.5M387 54.05h-5.5M387 50.25h-5.5M387 47.04h-5.5M387 44.25h-5.5M387 41.8h-5.5M387 25.15h-5.5" stroke="#1a1a1a" stroke-width="1.55" fill="none"/>
<text x="405.89" y="239.4" font-size="13.5" font-weight="bold">10<tspan dy="-7.56" dx="-0.2" font-size="11.88" font-weight="normal" stroke="#000" stroke-width="0.35">2</tspan></text>
<text x="459.76" y="239.4" font-size="13.5" font-weight="bold">10<tspan dy="-7.56" dx="-0.2" font-size="11.88" font-weight="normal" stroke="#000" stroke-width="0.35">3</tspan></text>
<text x="513.63" y="239.4" font-size="13.5" font-weight="bold">10<tspan dy="-7.56" dx="-0.2" font-size="11.88" font-weight="normal" stroke="#000" stroke-width="0.35">4</tspan></text>
<text x="567.5" y="239.4" font-size="13.5" font-weight="bold">10<tspan dy="-7.56" dx="-0.2" font-size="11.88" font-weight="normal" stroke="#000" stroke-width="0.35">5</tspan></text>
<text transform="translate(376.5 195.21) rotate(-90)" font-size="13.5" font-weight="bold">10<tspan dy="-7.56" dx="-0.2" font-size="11.88" font-weight="normal" stroke="#000" stroke-width="0.35">2</tspan></text>
<text transform="translate(376.5 147.21) rotate(-90)" font-size="13.5" font-weight="bold">10<tspan dy="-7.56" dx="-0.2" font-size="11.88" font-weight="normal" stroke="#000" stroke-width="0.35">3</tspan></text>
<text transform="translate(376.5 99.21) rotate(-90)" font-size="13.5" font-weight="bold">10<tspan dy="-7.56" dx="-0.2" font-size="11.88" font-weight="normal" stroke="#000" stroke-width="0.35">4</tspan></text>
<text transform="translate(376.5 51.21) rotate(-90)" font-size="13.5" font-weight="bold">10<tspan dy="-7.56" dx="-0.2" font-size="11.88" font-weight="normal" stroke="#000" stroke-width="0.35">5</tspan></text>
<text x="401.25" y="263.3" font-size="18.5" textLength="187.5" lengthAdjust="spacingAndGlyphs" stroke="#000" stroke-width="0.4">CD80 HorizonV450-A</text>
<text transform="translate(352.2 204.4) rotate(-90)" font-size="18.5" textLength="193.2" lengthAdjust="spacingAndGlyphs" stroke="#000" stroke-width="0.4">HLA-DR HorizonV500-A</text>
<path d="M787.8 47.5h1.4M817.8 47.5h1.4M811.8 48.5h1.4M801.8 49.5h1.4M793.8 52.5h1.4M797.8 52.5h1.4M800.8 52.5h1.4M802.8 52.5h1.4M816.8 52.5h1.4M783.8 53.5h1.4M793.8 53.5h1.4M805.8 53.5h1.4M780.8 54.5h1.4M793.8 54.5h1.4M804.8 54.5h2.4M809.8 54.5h1.4M811.8 54.5h1.4M784.8 55.5h1.4M794.8 55.5h1.4M801.8 55.5h1.4M814.8 55.5h2.4M783.8 56.5h1.4M787.8 56.5h1.4M791.8 56.5h1.4M793.8 56.5h1.4M796.8 56.5h1.4M803.8 56.5h1.4M788.8 57.5h1.4M794.8 57.5h1.4M798.8 57.5h2.4M802.8 57.5h3.4M783.8 58.5h1.4M785.8 58.5h1.4M788.8 58.5h1.4M793.8 58.5h1.4M795.8 58.5h1.4M797.8 58.5h7.4M805.8 58.5h1.4M809.8 58.5h2.4M812.8 58.5h2.4M763.8 59.5h1.4M775.8 59.5h1.4M777.8 59.5h1.4M781.8 59.5h2.4M785.8 59.5h1.4M787.8 59.5h1.4M789.8 59.5h5.4M796.8 59.5h10.4M775.8 60.5h1.4M782.8 60.5h1.4M785.8 60.5h1.4M788.8 60.5h1.4M790.8 60.5h1.4M792.8 60.5h1.4M794.8 60.5h2.4M798.8 60.5h2.4M801.8 60.5h7.4M776.8 61.5h1.4M779.8 61.5h1.4M781.8 61.5h1.4M783.8 61.5h2.4M786.8 61.5h2.4M789.8 61.5h19.4M809.8 61.5h1.4M815.8 61.5h1.4M780.8 62.5h1.4M782.8 62.5h2.4M785.8 62.5h1.4M787.8 62.5h18.4M806.8 62.5h4.4M771.8 63.5h1.4M774.8 63.5h1.4M779.8 63.5h2.4M783.8 63.5h6.4M790.8 63.5h18.4M809.8 63.5h3.4M829.8 63.5h1.4M772.8 64.5h2.4M775.8 64.5h2.4M778.8 64.5h1.4M780.8 64.5h5.4M786.8 64.5h25.4M815.8 64.5h1.4M771.8 65.5h1.4M776.8 65.5h1.4M778.8 65.5h5.4M784.8 65.5h1.4M786.8 65.5h25.4M772.8 66.5h2.4M775.8 66.5h37.4M815.8 66.5h1.4M769.8 67.5h1.4M771.8 67.5h2.4M775.8 67.5h3.4M779.8 67.5h32.4M812.8 67.5h1.4M814.8 67.5h1.4M767.8 68.5h1.4M769.8 68.5h1.4M771.8 68.5h2.4M775.8 68.5h37.4M816.8 68.5h1.4M770.8 69.5h1.4M773.8 69.5h5.4M779.8 69.5h33.4M763.8 70.5h1.4M773.8 70.5h1.4M776.8 70.5h36.4M814.8 70.5h2.4M763.8 71.5h1.4M769.8 71.5h1.4M771.8 71.5h4.4M776.8 71.5h33.4M810.8 71.5h2.4M813.8 71.5h2.4M738.8 72.5h1.4M757.8 72.5h1.4M763.8 72.5h1.4M766.8 72.5h1.4M768.8 72.5h41.4M810.8 72.5h2.4M814.8 72.5h1.4M818.8 72.5h1.4M747.8 73.5h1.4M749.8 73.5h1.4M760.8 73.5h1.4M766.8 73.5h4.4M771.8 73.5h42.4M814.8 73.5h1.4M755.8 74.5h1.4M762.8 74.5h1.4M764.8 74.5h4.4M769.8 74.5h1.4M771.8 74.5h41.4M813.8 74.5h1.4M818.8 74.5h1.4M748.8 75.5h1.4M758.8 75.5h2.4M762.8 75.5h1.4M765.8 75.5h3.4M769.8 75.5h43.4M815.8 75.5h1.4M759.8 76.5h1.4M761.8 76.5h1.4M763.8 76.5h1.4M765.8 76.5h1.4M767.8 76.5h2.4M771.8 76.5h38.4M810.8 76.5h5.4M753.8 77.5h2.4M758.8 77.5h1.4M760.8 77.5h1.4M762.8 77.5h3.4M766.8 77.5h46.4M813.8 77.5h1.4M751.8 78.5h3.4M755.8 78.5h1.4M760.8 78.5h1.4M762.8 78.5h1.4M764.8 78.5h2.4M768.8 78.5h46.4M731.8 79.5h1.4M745.8 79.5h1.4M754.8 79.5h2.4M757.8 79.5h1.4M759.8 79.5h2.4M762.8 79.5h1.4M764.8 79.5h4.4M769.8 79.5h43.4M732.8 80.5h1.4M751.8 80.5h1.4M753.8 80.5h2.4M758.8 80.5h1.4M761.8 80.5h1.4M765.8 80.5h44.4M811.8 80.5h2.4M815.8 80.5h1.4M734.8 81.5h1.4M753.8 81.5h1.4M755.8 81.5h1.4M757.8 81.5h4.4M762.8 81.5h45.4M808.8 81.5h4.4M814.8 81.5h1.4M740.8 82.5h1.4M752.8 82.5h2.4M756.8 82.5h1.4M758.8 82.5h2.4M761.8 82.5h49.4M811.8 82.5h2.4M823.8 82.5h1.4M733.8 83.5h1.4M750.8 83.5h1.4M754.8 83.5h1.4M756.8 83.5h2.4M759.8 83.5h47.4M807.8 83.5h2.4M813.8 83.5h1.4M730.8 84.5h1.4M735.8 84.5h1.4M751.8 84.5h1.4M755.8 84.5h7.4M763.8 84.5h43.4M807.8 84.5h1.4M809.8 84.5h1.4M811.8 84.5h1.4M815.8 84.5h1.4M723.8 85.5h1.4M752.8 85.5h2.4M755.8 85.5h3.4M759.8 85.5h46.4M806.8 85.5h3.4M810.8 85.5h1.4M812.8 85.5h1.4M723.8 86.5h2.4M729.8 86.5h2.4M733.8 86.5h1.4M747.8 86.5h1.4M751.8 86.5h1.4M754.8 86.5h54.4M809.8 86.5h3.4M725.8 87.5h1.4M728.8 87.5h1.4M734.8 87.5h1.4M738.8 87.5h1.4M749.8 87.5h3.4M754.8 87.5h2.4M757.8 87.5h48.4M806.8 87.5h1.4M808.8 87.5h3.4M720.8 88.5h1.4M726.8 88.5h1.4M731.8 88.5h1.4M733.8 88.5h1.4M747.8 88.5h1.4M750.8 88.5h1.4M752.8 88.5h3.4M757.8 88.5h54.4M721.8 89.5h1.4M728.8 89.5h1.4M736.8 89.5h1.4M742.8 89.5h1.4M744.8 89.5h1.4M748.8 89.5h1.4M753.8 89.5h56.4M810.8 89.5h2.4M720.8 90.5h1.4M728.8 90.5h1.4M731.8 90.5h3.4M740.8 90.5h1.4M742.8 90.5h1.4M744.8 90.5h1.4M746.8 90.5h1.4M748.8 90.5h7.4M757.8 90.5h48.4M806.8 90.5h2.4M812.8 90.5h1.4M719.8 91.5h1.4M724.8 91.5h1.4M730.8 91.5h1.4M733.8 91.5h1.4M735.8 91.5h3.4M739.8 91.5h1.4M741.8 91.5h1.4M746.8 91.5h1.4M748.8 91.5h7.4M756.8 91.5h53.4M812.8 91.5h1.4M724.8 92.5h1.4M728.8 92.5h1.4M732.8 92.5h1.4M738.8 92.5h1.4M740.8 92.5h1.4M742.8 92.5h1.4M744.8 92.5h6.4M751.8 92.5h54.4M806.8 92.5h2.4M809.8 92.5h1.4M811.8 92.5h2.4M721.8 93.5h1.4M726.8 93.5h1.4M729.8 93.5h2.4M733.8 93.5h1.4M735.8 93.5h2.4M739.8 93.5h1.4M741.8 93.5h2.4M744.8 93.5h4.4M749.8 93.5h3.4M753.8 93.5h54.4M809.8 93.5h1.4M812.8 93.5h1.4M720.8 94.5h3.4M724.8 94.5h1.4M727.8 94.5h1.4M730.8 94.5h4.4M735.8 94.5h1.4M737.8 94.5h3.4M743.8 94.5h2.4M746.8 94.5h3.4M751.8 94.5h53.4M806.8 94.5h3.4M723.8 95.5h4.4M729.8 95.5h2.4M732.8 95.5h1.4M736.8 95.5h64.4M801.8 95.5h2.4M804.8 95.5h2.4M807.8 95.5h1.4M717.8 96.5h1.4M720.8 96.5h1.4M724.8 96.5h1.4M726.8 96.5h2.4M730.8 96.5h1.4M733.8 96.5h2.4M736.8 96.5h1.4M738.8 96.5h66.4M805.8 96.5h1.4M807.8 96.5h1.4M717.8 97.5h1.4M723.8 97.5h1.4M725.8 97.5h3.4M730.8 97.5h3.4M735.8 97.5h2.4M738.8 97.5h4.4M743.8 97.5h6.4M750.8 97.5h48.4M799.8 97.5h3.4M803.8 97.5h1.4M805.8 97.5h1.4M721.8 98.5h1.4M723.8 98.5h3.4M728.8 98.5h2.4M733.8 98.5h1.4M738.8 98.5h7.4M746.8 98.5h52.4M799.8 98.5h2.4M802.8 98.5h3.4M806.8 98.5h2.4M819.8 98.5h1.4M719.8 99.5h1.4M721.8 99.5h1.4M724.8 99.5h1.4M727.8 99.5h2.4M731.8 99.5h3.4M736.8 99.5h6.4M745.8 99.5h1.4M747.8 99.5h50.4M798.8 99.5h2.4M801.8 99.5h3.4M805.8 99.5h2.4M725.8 100.5h1.4M727.8 100.5h2.4M731.8 100.5h1.4M735.8 100.5h3.4M739.8 100.5h2.4M743.8 100.5h59.4M803.8 100.5h3.4M720.8 101.5h3.4M724.8 101.5h1.4M726.8 101.5h2.4M729.8 101.5h3.4M734.8 101.5h3.4M738.8 101.5h1.4M740.8 101.5h1.4M742.8 101.5h1.4M745.8 101.5h53.4M799.8 101.5h3.4M804.8 101.5h1.4M806.8 101.5h2.4M716.8 102.5h1.4M720.8 102.5h5.4M726.8 102.5h1.4M732.8 102.5h6.4M739.8 102.5h1.4M741.8 102.5h1.4M743.8 102.5h56.4M800.8 102.5h5.4M808.8 102.5h2.4M718.8 103.5h1.4M722.8 103.5h1.4M727.8 103.5h2.4M731.8 103.5h3.4M736.8 103.5h2.4M739.8 103.5h2.4M742.8 103.5h62.4M805.8 103.5h1.4M720.8 104.5h9.4M730.8 104.5h1.4M732.8 104.5h2.4M735.8 104.5h1.4M737.8 104.5h1.4M740.8 104.5h53.4M795.8 104.5h4.4M803.8 104.5h2.4M807.8 104.5h1.4M811.8 104.5h1.4M718.8 105.5h3.4M722.8 105.5h2.4M725.8 105.5h1.4M727.8 105.5h1.4M730.8 105.5h1.4M732.8 105.5h1.4M734.8 105.5h6.4M741.8 105.5h52.4M795.8 105.5h2.4M799.8 105.5h2.4M802.8 105.5h2.4M805.8 105.5h1.4M809.8 105.5h1.4M717.8 106.5h2.4M723.8 106.5h5.4M731.8 106.5h2.4M734.8 106.5h3.4M738.8 106.5h54.4M793.8 106.5h6.4M800.8 106.5h4.4M805.8 106.5h1.4M808.8 106.5h1.4M718.8 107.5h1.4M721.8 107.5h1.4M723.8 107.5h2.4M727.8 107.5h1.4M729.8 107.5h1.4M732.8 107.5h3.4M736.8 107.5h58.4M795.8 107.5h2.4M798.8 107.5h2.4M803.8 107.5h2.4M719.8 108.5h1.4M721.8 108.5h1.4M724.8 108.5h2.4M727.8 108.5h1.4M730.8 108.5h2.4M733.8 108.5h1.4M735.8 108.5h3.4M739.8 108.5h57.4M798.8 108.5h3.4M717.8 109.5h1.4M720.8 109.5h5.4M726.8 109.5h1.4M729.8 109.5h2.4M732.8 109.5h58.4M792.8 109.5h4.4M797.8 109.5h1.4M799.8 109.5h2.4M805.8 109.5h1.4M716.8 110.5h1.4M719.8 110.5h1.4M722.8 110.5h3.4M729.8 110.5h2.4M732.8 110.5h63.4M796.8 110.5h5.4M805.8 110.5h1.4M720.8 111.5h3.4M725.8 111.5h68.4M794.8 111.5h1.4M797.8 111.5h1.4M800.8 111.5h1.4M811.8 111.5h1.4M719.8 112.5h2.4M723.8 112.5h1.4M727.8 112.5h1.4M729.8 112.5h4.4M734.8 112.5h57.4M792.8 112.5h1.4M794.8 112.5h1.4M797.8 112.5h1.4M801.8 112.5h1.4M803.8 112.5h1.4M721.8 113.5h2.4M724.8 113.5h5.4M732.8 113.5h1.4M734.8 113.5h56.4M791.8 113.5h1.4M793.8 113.5h2.4M796.8 113.5h2.4M799.8 113.5h3.4M803.8 113.5h1.4M722.8 114.5h2.4M725.8 114.5h64.4M791.8 114.5h5.4M801.8 114.5h1.4M721.8 115.5h2.4M724.8 115.5h1.4M727.8 115.5h4.4M732.8 115.5h53.4M786.8 115.5h6.4M793.8 115.5h10.4M716.8 116.5h6.4M724.8 116.5h4.4M729.8 116.5h1.4M731.8 116.5h53.4M785.8 116.5h3.4M789.8 116.5h2.4M792.8 116.5h3.4M797.8 116.5h2.4M805.8 116.5h1.4M809.8 116.5h1.4M719.8 117.5h1.4M721.8 117.5h3.4M725.8 117.5h2.4M728.8 117.5h1.4M730.8 117.5h2.4M733.8 117.5h61.4M796.8 117.5h2.4M799.8 117.5h2.4M805.8 117.5h1.4M719.8 118.5h1.4M723.8 118.5h2.4M726.8 118.5h1.4M728.8 118.5h1.4M730.8 118.5h1.4M732.8 118.5h54.4M788.8 118.5h2.4M792.8 118.5h3.4M800.8 118.5h2.4M718.8 119.5h3.4M722.8 119.5h6.4M730.8 119.5h52.4M783.8 119.5h2.4M786.8 119.5h1.4M789.8 119.5h2.4M792.8 119.5h1.4M794.8 119.5h1.4M796.8 119.5h2.4M799.8 119.5h2.4M718.8 120.5h2.4M726.8 120.5h1.4M731.8 120.5h1.4M733.8 120.5h54.4M790.8 120.5h1.4M794.8 120.5h1.4M797.8 120.5h1.4M799.8 120.5h1.4M804.8 120.5h1.4M814.8 120.5h1.4M718.8 121.5h1.4M722.8 121.5h2.4M726.8 121.5h5.4M734.8 121.5h50.4M788.8 121.5h4.4M793.8 121.5h2.4M796.8 121.5h1.4M801.8 121.5h1.4M718.8 122.5h3.4M722.8 122.5h2.4M725.8 122.5h3.4M729.8 122.5h2.4M732.8 122.5h4.4M737.8 122.5h47.4M787.8 122.5h3.4M793.8 122.5h2.4M797.8 122.5h1.4M802.8 122.5h1.4M716.8 123.5h1.4M721.8 123.5h1.4M729.8 123.5h1.4M731.8 123.5h5.4M737.8 123.5h52.4M790.8 123.5h1.4M792.8 123.5h3.4M796.8 123.5h2.4M799.8 123.5h2.4M720.8 124.5h1.4M722.8 124.5h1.4M724.8 124.5h5.4M730.8 124.5h1.4M732.8 124.5h5.4M738.8 124.5h43.4M782.8 124.5h6.4M789.8 124.5h2.4M792.8 124.5h1.4M794.8 124.5h5.4M718.8 125.5h2.4M724.8 125.5h2.4M728.8 125.5h1.4M730.8 125.5h2.4M733.8 125.5h4.4M738.8 125.5h2.4M741.8 125.5h41.4M786.8 125.5h2.4M789.8 125.5h2.4M792.8 125.5h1.4M794.8 125.5h1.4M796.8 125.5h1.4M799.8 125.5h1.4M718.8 126.5h3.4M723.8 126.5h1.4M725.8 126.5h1.4M727.8 126.5h8.4M736.8 126.5h2.4M739.8 126.5h2.4M742.8 126.5h35.4M778.8 126.5h2.4M781.8 126.5h1.4M783.8 126.5h1.4M787.8 126.5h6.4M794.8 126.5h1.4M797.8 126.5h1.4M809.8 126.5h1.4M813.8 126.5h1.4M720.8 127.5h1.4M722.8 127.5h3.4M726.8 127.5h1.4M728.8 127.5h4.4M733.8 127.5h1.4M736.8 127.5h46.4M783.8 127.5h1.4M789.8 127.5h2.4M792.8 127.5h3.4M796.8 127.5h2.4M800.8 127.5h1.4M805.8 127.5h1.4M722.8 128.5h1.4M728.8 128.5h1.4M730.8 128.5h3.4M734.8 128.5h4.4M740.8 128.5h37.4M778.8 128.5h1.4M780.8 128.5h5.4M786.8 128.5h3.4M790.8 128.5h1.4M792.8 128.5h1.4M794.8 128.5h1.4M798.8 128.5h1.4M725.8 129.5h1.4M727.8 129.5h1.4M729.8 129.5h2.4M732.8 129.5h1.4M734.8 129.5h1.4M737.8 129.5h1.4M739.8 129.5h3.4M743.8 129.5h35.4M779.8 129.5h3.4M783.8 129.5h2.4M786.8 129.5h2.4M790.8 129.5h1.4M792.8 129.5h1.4M794.8 129.5h2.4M797.8 129.5h2.4M802.8 129.5h1.4M723.8 130.5h1.4M726.8 130.5h1.4M728.8 130.5h2.4M732.8 130.5h1.4M735.8 130.5h5.4M743.8 130.5h1.4M745.8 130.5h33.4M779.8 130.5h3.4M784.8 130.5h2.4M790.8 130.5h1.4M792.8 130.5h3.4M796.8 130.5h1.4M801.8 130.5h1.4M718.8 131.5h1.4M722.8 131.5h1.4M724.8 131.5h1.4M727.8 131.5h1.4M729.8 131.5h1.4M732.8 131.5h2.4M735.8 131.5h1.4M737.8 131.5h1.4M739.8 131.5h2.4M743.8 131.5h1.4M745.8 131.5h3.4M750.8 131.5h23.4M774.8 131.5h2.4M777.8 131.5h3.4M781.8 131.5h3.4M785.8 131.5h1.4M787.8 131.5h2.4M790.8 131.5h3.4M795.8 131.5h1.4M718.8 132.5h1.4M720.8 132.5h1.4M723.8 132.5h1.4M726.8 132.5h1.4M728.8 132.5h1.4M730.8 132.5h1.4M732.8 132.5h2.4M736.8 132.5h2.4M740.8 132.5h6.4M748.8 132.5h2.4M751.8 132.5h23.4M775.8 132.5h6.4M783.8 132.5h1.4M785.8 132.5h3.4M790.8 132.5h2.4M793.8 132.5h4.4M720.8 133.5h1.4M722.8 133.5h1.4M725.8 133.5h1.4M731.8 133.5h1.4M733.8 133.5h3.4M737.8 133.5h2.4M743.8 133.5h3.4M747.8 133.5h26.4M774.8 133.5h1.4M776.8 133.5h2.4M779.8 133.5h2.4M782.8 133.5h2.4M785.8 133.5h1.4M788.8 133.5h2.4M792.8 133.5h1.4M794.8 133.5h1.4M722.8 134.5h1.4M726.8 134.5h1.4M728.8 134.5h2.4M731.8 134.5h1.4M734.8 134.5h2.4M737.8 134.5h4.4M742.8 134.5h1.4M745.8 134.5h1.4M749.8 134.5h1.4M751.8 134.5h6.4M758.8 134.5h15.4M774.8 134.5h1.4M776.8 134.5h5.4M784.8 134.5h3.4M788.8 134.5h2.4M791.8 134.5h2.4M794.8 134.5h1.4M807.8 134.5h1.4M719.8 135.5h1.4M722.8 135.5h1.4M727.8 135.5h4.4M732.8 135.5h1.4M734.8 135.5h1.4M736.8 135.5h2.4M740.8 135.5h1.4M743.8 135.5h5.4M750.8 135.5h8.4M759.8 135.5h6.4M766.8 135.5h7.4M774.8 135.5h4.4M782.8 135.5h1.4M784.8 135.5h2.4M788.8 135.5h1.4M790.8 135.5h3.4M794.8 135.5h1.4M800.8 135.5h1.4M722.8 136.5h1.4M726.8 136.5h1.4M729.8 136.5h3.4M733.8 136.5h1.4M735.8 136.5h3.4M739.8 136.5h1.4M741.8 136.5h1.4M743.8 136.5h3.4M750.8 136.5h5.4M756.8 136.5h6.4M763.8 136.5h1.4M765.8 136.5h2.4M768.8 136.5h3.4M772.8 136.5h1.4M775.8 136.5h1.4M777.8 136.5h1.4M779.8 136.5h3.4M788.8 136.5h1.4M790.8 136.5h2.4M794.8 136.5h1.4M719.8 137.5h1.4M727.8 137.5h1.4M733.8 137.5h2.4M737.8 137.5h2.4M740.8 137.5h3.4M745.8 137.5h6.4M752.8 137.5h1.4M754.8 137.5h4.4M761.8 137.5h2.4M764.8 137.5h1.4M766.8 137.5h5.4M773.8 137.5h2.4M777.8 137.5h1.4M779.8 137.5h1.4M781.8 137.5h1.4M785.8 137.5h3.4M791.8 137.5h1.4M793.8 137.5h1.4M727.8 138.5h2.4M731.8 138.5h1.4M735.8 138.5h1.4M738.8 138.5h1.4M740.8 138.5h1.4M743.8 138.5h1.4M746.8 138.5h3.4M753.8 138.5h2.4M757.8 138.5h1.4M760.8 138.5h2.4M763.8 138.5h1.4M766.8 138.5h1.4M768.8 138.5h4.4M773.8 138.5h2.4M777.8 138.5h1.4M779.8 138.5h2.4M782.8 138.5h1.4M784.8 138.5h4.4M789.8 138.5h2.4M793.8 138.5h1.4M795.8 138.5h1.4M799.8 138.5h1.4M722.8 139.5h1.4M727.8 139.5h1.4M729.8 139.5h2.4M734.8 139.5h2.4M737.8 139.5h1.4M739.8 139.5h5.4M746.8 139.5h1.4M748.8 139.5h5.4M754.8 139.5h8.4M763.8 139.5h1.4M765.8 139.5h2.4M768.8 139.5h3.4M772.8 139.5h2.4M778.8 139.5h1.4M780.8 139.5h2.4M784.8 139.5h1.4M786.8 139.5h2.4M789.8 139.5h4.4M722.8 140.5h1.4M724.8 140.5h1.4M726.8 140.5h2.4M732.8 140.5h2.4M735.8 140.5h1.4M738.8 140.5h3.4M742.8 140.5h1.4M744.8 140.5h7.4M752.8 140.5h3.4M756.8 140.5h8.4M765.8 140.5h3.4M769.8 140.5h3.4M774.8 140.5h2.4M777.8 140.5h1.4M779.8 140.5h1.4M781.8 140.5h1.4M783.8 140.5h4.4M788.8 140.5h2.4M791.8 140.5h2.4M726.8 141.5h1.4M738.8 141.5h5.4M745.8 141.5h5.4M752.8 141.5h2.4M756.8 141.5h6.4M763.8 141.5h1.4M766.8 141.5h1.4M768.8 141.5h3.4M772.8 141.5h2.4M776.8 141.5h1.4M778.8 141.5h1.4M780.8 141.5h1.4M782.8 141.5h5.4M788.8 141.5h1.4M792.8 141.5h1.4M717.8 142.5h1.4M727.8 142.5h2.4M730.8 142.5h1.4M733.8 142.5h1.4M735.8 142.5h1.4M738.8 142.5h2.4M741.8 142.5h3.4M745.8 142.5h1.4M747.8 142.5h1.4M749.8 142.5h1.4M751.8 142.5h2.4M755.8 142.5h1.4M758.8 142.5h1.4M762.8 142.5h3.4M766.8 142.5h6.4M774.8 142.5h1.4M776.8 142.5h1.4M778.8 142.5h2.4M781.8 142.5h2.4M784.8 142.5h3.4M791.8 142.5h1.4M727.8 143.5h1.4M731.8 143.5h1.4M734.8 143.5h1.4M741.8 143.5h2.4M744.8 143.5h1.4M746.8 143.5h1.4M750.8 143.5h1.4M752.8 143.5h2.4M757.8 143.5h3.4M761.8 143.5h6.4M768.8 143.5h1.4M770.8 143.5h3.4M775.8 143.5h3.4M779.8 143.5h2.4M783.8 143.5h1.4M786.8 143.5h2.4M790.8 143.5h2.4M726.8 144.5h1.4M738.8 144.5h2.4M741.8 144.5h1.4M743.8 144.5h1.4M745.8 144.5h8.4M754.8 144.5h2.4M758.8 144.5h2.4M763.8 144.5h4.4M768.8 144.5h2.4M771.8 144.5h1.4M774.8 144.5h5.4M782.8 144.5h3.4M787.8 144.5h3.4M793.8 144.5h1.4M796.8 144.5h1.4M721.8 145.5h1.4M723.8 145.5h1.4M736.8 145.5h1.4M740.8 145.5h7.4M749.8 145.5h6.4M757.8 145.5h2.4M763.8 145.5h1.4M766.8 145.5h1.4M768.8 145.5h1.4M770.8 145.5h1.4M772.8 145.5h1.4M774.8 145.5h2.4M779.8 145.5h1.4M781.8 145.5h2.4M785.8 145.5h2.4M788.8 145.5h1.4M731.8 146.5h1.4M735.8 146.5h2.4M740.8 146.5h1.4M742.8 146.5h1.4M748.8 146.5h1.4M753.8 146.5h1.4M755.8 146.5h1.4M757.8 146.5h2.4M760.8 146.5h4.4M765.8 146.5h5.4M771.8 146.5h2.4M774.8 146.5h5.4M783.8 146.5h2.4M788.8 146.5h1.4M790.8 146.5h1.4M735.8 147.5h1.4M739.8 147.5h1.4M741.8 147.5h1.4M745.8 147.5h1.4M747.8 147.5h3.4M752.8 147.5h2.4M757.8 147.5h2.4M761.8 147.5h1.4M767.8 147.5h1.4M769.8 147.5h1.4M773.8 147.5h5.4M779.8 147.5h1.4M781.8 147.5h1.4M783.8 147.5h2.4M789.8 147.5h1.4M799.8 147.5h1.4M725.8 148.5h1.4M728.8 148.5h1.4M742.8 148.5h2.4M745.8 148.5h2.4M748.8 148.5h2.4M752.8 148.5h1.4M754.8 148.5h8.4M764.8 148.5h1.4M769.8 148.5h2.4M773.8 148.5h3.4M782.8 148.5h1.4M784.8 148.5h2.4M787.8 148.5h1.4M810.8 148.5h1.4M735.8 149.5h1.4M738.8 149.5h1.4M740.8 149.5h1.4M746.8 149.5h1.4M748.8 149.5h1.4M750.8 149.5h1.4M752.8 149.5h2.4M758.8 149.5h2.4M764.8 149.5h3.4M769.8 149.5h5.4M775.8 149.5h4.4M782.8 149.5h1.4M784.8 149.5h1.4M787.8 149.5h1.4M719.8 150.5h1.4M738.8 150.5h1.4M742.8 150.5h1.4M745.8 150.5h3.4M749.8 150.5h2.4M753.8 150.5h1.4M756.8 150.5h1.4M758.8 150.5h1.4M761.8 150.5h2.4M764.8 150.5h1.4M768.8 150.5h3.4M772.8 150.5h5.4M779.8 150.5h1.4M781.8 150.5h3.4M785.8 150.5h1.4M788.8 150.5h2.4M729.8 151.5h1.4M737.8 151.5h2.4M740.8 151.5h1.4M744.8 151.5h1.4M746.8 151.5h2.4M751.8 151.5h9.4M761.8 151.5h8.4M770.8 151.5h2.4M775.8 151.5h2.4M778.8 151.5h2.4M785.8 151.5h1.4M794.8 151.5h1.4M720.8 152.5h1.4M742.8 152.5h1.4M745.8 152.5h1.4M749.8 152.5h1.4M751.8 152.5h1.4M753.8 152.5h1.4M756.8 152.5h2.4M760.8 152.5h1.4M762.8 152.5h1.4M764.8 152.5h1.4M766.8 152.5h2.4M769.8 152.5h1.4M771.8 152.5h5.4M777.8 152.5h1.4M780.8 152.5h1.4M782.8 152.5h1.4M789.8 152.5h1.4M746.8 153.5h2.4M752.8 153.5h1.4M754.8 153.5h1.4M757.8 153.5h1.4M759.8 153.5h1.4M764.8 153.5h1.4M767.8 153.5h1.4M771.8 153.5h4.4M776.8 153.5h1.4M781.8 153.5h1.4M787.8 153.5h1.4M728.8 154.5h1.4M737.8 154.5h1.4M744.8 154.5h1.4M747.8 154.5h1.4M752.8 154.5h1.4M755.8 154.5h2.4M758.8 154.5h1.4M761.8 154.5h1.4M763.8 154.5h4.4M770.8 154.5h3.4M778.8 154.5h1.4M780.8 154.5h1.4M821.8 154.5h1.4M734.8 155.5h1.4M741.8 155.5h1.4M745.8 155.5h1.4M750.8 155.5h1.4M752.8 155.5h1.4M755.8 155.5h1.4M759.8 155.5h1.4M761.8 155.5h1.4M765.8 155.5h2.4M769.8 155.5h2.4M775.8 155.5h1.4M780.8 155.5h2.4M799.8 155.5h1.4M745.8 156.5h1.4M749.8 156.5h1.4M753.8 156.5h1.4M756.8 156.5h1.4M759.8 156.5h4.4M764.8 156.5h1.4M766.8 156.5h1.4M772.8 156.5h1.4M775.8 156.5h1.4M786.8 156.5h1.4M789.8 156.5h2.4M730.8 157.5h1.4M744.8 157.5h1.4M751.8 157.5h2.4M755.8 157.5h1.4M766.8 157.5h1.4M770.8 157.5h1.4M773.8 157.5h1.4M775.8 157.5h1.4M781.8 157.5h1.4M786.8 157.5h2.4M794.8 157.5h1.4M801.8 157.5h1.4M735.8 158.5h1.4M738.8 158.5h1.4M741.8 158.5h1.4M743.8 158.5h1.4M751.8 158.5h1.4M756.8 158.5h1.4M760.8 158.5h1.4M764.8 158.5h1.4M769.8 158.5h2.4M772.8 158.5h1.4M775.8 158.5h1.4M780.8 158.5h1.4M785.8 158.5h1.4M787.8 158.5h1.4M728.8 159.5h1.4M745.8 159.5h1.4M749.8 159.5h1.4M760.8 159.5h1.4M762.8 159.5h2.4M765.8 159.5h1.4M772.8 159.5h2.4M776.8 159.5h1.4M778.8 159.5h1.4M780.8 159.5h2.4M783.8 159.5h1.4M786.8 159.5h1.4M739.8 160.5h1.4M749.8 160.5h1.4M751.8 160.5h1.4M756.8 160.5h2.4M759.8 160.5h1.4M762.8 160.5h1.4M778.8 160.5h1.4M780.8 160.5h1.4M782.8 160.5h2.4M725.8 161.5h2.4M771.8 161.5h1.4M725.8 162.5h1.4M750.8 162.5h1.4M770.8 162.5h1.4M774.8 162.5h1.4M778.8 162.5h1.4M795.8 162.5h1.4M805.8 162.5h1.4M737.8 163.5h1.4M745.8 163.5h1.4M770.8 163.5h1.4M772.8 163.5h1.4M791.8 163.5h1.4M747.8 164.5h1.4M751.8 164.5h1.4M759.8 164.5h1.4M761.8 164.5h1.4M763.8 164.5h2.4M766.8 164.5h1.4M769.8 164.5h1.4M758.8 165.5h1.4M769.8 165.5h1.4M775.8 165.5h1.4M777.8 165.5h1.4M791.8 165.5h1.4M740.8 166.5h1.4M767.8 166.5h1.4M782.8 166.5h1.4M763.8 167.5h1.4M766.8 168.5h1.4M729.8 169.5h1.4M756.8 169.5h2.4M772.8 169.5h1.4M775.8 169.5h1.4M725.8 170.5h1.4M734.8 170.5h1.4M747.8 170.5h1.4M783.8 170.5h3.4M799.8 170.5h1.4M720.8 171.5h1.4M750.8 171.5h1.4M763.8 171.5h2.4M769.8 171.5h1.4M756.8 172.5h1.4M727.8 173.5h1.4M779.8 173.5h1.4M787.8 173.5h1.4M804.8 174.5h1.4M739.8 175.5h1.4M766.8 175.5h1.4M784.8 175.5h1.4M792.8 175.5h1.4M755.8 176.5h1.4M778.8 176.5h1.4M777.8 177.5h1.4M724.8 178.5h1.4M764.8 178.5h1.4M794.8 178.5h1.4M756.8 179.5h1.4M758.8 179.5h1.4M753.8 180.5h1.4M735.8 181.5h1.4M740.8 183.5h1.4M750.8 183.5h1.4M769.8 184.5h1.4M755.8 185.5h1.4M774.8 185.5h1.4M741.8 186.5h1.4M721.8 187.5h1.4M777.8 188.5h1.4M789.8 190.5h1.4M795.8 190.5h1.4M728.8 192.5h1.4M751.8 192.5h1.4M755.8 193.5h1.4M741.8 195.5h1.4M789.8 196.5h1.4M758.8 197.5h1.4M780.8 202.5h1.4M795.8 202.5h1.4M762.8 207.5h1.4M728.8 210.5h2.4M731.8 210.5h4.4M736.8 210.5h2.4M740.8 210.5h6.4M747.8 210.5h1.4" stroke="#000" stroke-width="1.45" fill="none"/>
<text x="726.2" y="42.1" font-size="13.5" fill="#3a3a3a" textLength="30.8" lengthAdjust="spacingAndGlyphs">Q1-2</text>
<text x="790.5" y="42.1" font-size="13.5" fill="#3a3a3a" textLength="31.2" lengthAdjust="spacingAndGlyphs">Q2-2</text>
<text x="723" y="192.6" font-size="13.5" fill="#3a3a3a" textLength="30.3" lengthAdjust="spacingAndGlyphs">Q3-2</text>
<text x="790.5" y="192.6" font-size="13.5" fill="#3a3a3a" textLength="31.2" lengthAdjust="spacingAndGlyphs">Q4-2</text>
<rect x="715.6" y="18.75" width="215.4" height="193.25" fill="none" stroke="#000" stroke-width="1.7"/>
<path d="M767.5 18.75V212M715.6 154.6H931" stroke="#000" stroke-width="1.4" fill="none"/>
<path d="M746 212v11M799.5 212v11M853 212v11M906.5 212v11M718.03 212v6.5M724.71 212v6.5M729.89 212v6.5M734.13 212v6.5M737.71 212v6.5M740.82 212v6.5M743.55 212v6.5M762.11 212v6.5M771.53 212v6.5M778.21 212v6.5M783.39 212v6.5M787.63 212v6.5M791.21 212v6.5M794.32 212v6.5M797.05 212v6.5M815.61 212v6.5M825.03 212v6.5M831.71 212v6.5M836.89 212v6.5M841.13 212v6.5M844.71 212v6.5M847.82 212v6.5M850.55 212v6.5M869.11 212v6.5M878.53 212v6.5M885.21 212v6.5M890.39 212v6.5M894.63 212v6.5M898.21 212v6.5M901.32 212v6.5M904.05 212v6.5M922.61 212v6.5M715.6 183.6h-10M715.6 135.6h-10M715.6 87.6h-10M715.6 39.6h-10M715.6 208.7h-5.5M715.6 202.7h-5.5M715.6 198.05h-5.5M715.6 194.25h-5.5M715.6 191.04h-5.5M715.6 188.25h-5.5M715.6 185.8h-5.5M715.6 169.15h-5.5M715.6 160.7h-5.5M715.6 154.7h-5.5M715.6 150.05h-5.5M715.6 146.25h-5.5M715.6 143.04h-5.5M715.6 140.25h-5.5M715.6 137.8h-5.5M715.6 121.15h-5.5M715.6 112.7h-5.5M715.6 106.7h-5.5M715.6 102.05h-5.5M715.6 98.25h-5.5M715.6 95.04h-5.5M715.6 92.25h-5.5M715.6 89.8h-5.5M715.6 73.15h-5.5M715.6 64.7h-5.5M715.6 58.7h-5.5M715.6 54.05h-5.5M715.6 50.25h-5.5M715.6 47.04h-5.5M715.6 44.25h-5.5M715.6 41.8h-5.5M715.6 25.15h-5.5" stroke="#1a1a1a" stroke-width="1.55" fill="none"/>
<text x="734.99" y="239.4" font-size="13.5" font-weight="bold">10<tspan dy="-7.56" dx="-0.2" font-size="11.88" font-weight="normal" stroke="#000" stroke-width="0.35">2</tspan></text>
<text x="788.49" y="239.4" font-size="13.5" font-weight="bold">10<tspan dy="-7.56" dx="-0.2" font-size="11.88" font-weight="normal" stroke="#000" stroke-width="0.35">3</tspan></text>
<text x="841.99" y="239.4" font-size="13.5" font-weight="bold">10<tspan dy="-7.56" dx="-0.2" font-size="11.88" font-weight="normal" stroke="#000" stroke-width="0.35">4</tspan></text>
<text x="895.49" y="239.4" font-size="13.5" font-weight="bold">10<tspan dy="-7.56" dx="-0.2" font-size="11.88" font-weight="normal" stroke="#000" stroke-width="0.35">5</tspan></text>
<text transform="translate(705.1 195.21) rotate(-90)" font-size="13.5" font-weight="bold">10<tspan dy="-7.56" dx="-0.2" font-size="11.88" font-weight="normal" stroke="#000" stroke-width="0.35">2</tspan></text>
<text transform="translate(705.1 147.21) rotate(-90)" font-size="13.5" font-weight="bold">10<tspan dy="-7.56" dx="-0.2" font-size="11.88" font-weight="normal" stroke="#000" stroke-width="0.35">3</tspan></text>
<text transform="translate(705.1 99.21) rotate(-90)" font-size="13.5" font-weight="bold">10<tspan dy="-7.56" dx="-0.2" font-size="11.88" font-weight="normal" stroke="#000" stroke-width="0.35">4</tspan></text>
<text transform="translate(705.1 51.21) rotate(-90)" font-size="13.5" font-weight="bold">10<tspan dy="-7.56" dx="-0.2" font-size="11.88" font-weight="normal" stroke="#000" stroke-width="0.35">5</tspan></text>
<text x="729.5" y="263.3" font-size="18.5" textLength="186.75" lengthAdjust="spacingAndGlyphs" stroke="#000" stroke-width="0.4">CD40 HorizonV450-A</text>
<text transform="translate(681.2 169.8) rotate(-90)" font-size="18.5" textLength="109.2" lengthAdjust="spacingAndGlyphs" stroke="#000" stroke-width="0.4">CD86 APC-A</text>
<path d="M14.4 451.8L14.5 388L15.5 382.55L16.5 377.9L17.5 373.58L18.5 369.44L19.5 363.97L20.5 361.3L21.5 360.56L22.5 360.2L23.5 360.72L24.5 356.5L25.5 352.97L26.5 352.61L27.5 355.54L28.5 355.82L29.5 356.95L30.5 362.54L31.5 371.71L32.5 380.71L33.5 388.71L34.5 397.13L35.5 406.78L36.5 415.65L37.5 424.22L38.5 434.89L39.5 443.94L40.5 446.42L41.5 448.38L42.5 449.7L43.5 451.17L44.5 451.8L45.5 451.8L45.5 451.8Z" fill="#ebebeb" stroke="none"/>
<path d="M14.5 388L15.5 382.55L16.5 377.9L17.5 373.58L18.5 369.44L19.5 363.97L20.5 361.3L21.5 360.56L22.5 360.2L23.5 360.72L24.5 356.5L25.5 352.97L26.5 352.61L27.5 355.54L28.5 355.82L29.5 356.95L30.5 362.54L31.5 371.71L32.5 380.71L33.5 388.71L34.5 397.13L35.5 406.78L36.5 415.65L37.5 424.22L38.5 434.89L39.5 443.94L40.5 446.42L41.5 448.38L42.5 449.7L43.5 451.17L44.5 451.8L45.5 451.8" fill="none" stroke="#999" stroke-width="1.3" stroke-linejoin="round"/>
<path d="M14.4 339.1V334.1H134.6V451.8" fill="none" stroke="#8e8e8e" stroke-width="1.4"/>
<path d="M14.5 450.5L15.5 450.58L16.5 449.66L17.5 450.13L18.5 449.31L19.5 450.14L20.5 450.86L21.5 450.69L22.5 449.75L23.5 450.2L24.5 449.95L25.5 450.19L26.5 449.52L27.5 449.11L28.5 449.37L29.5 448.85L30.5 448.33L31.5 447.46L32.5 449.74L33.5 449.02L34.5 448.67L35.5 447.87L36.5 447.8L37.5 448.32L38.5 448.6L39.5 447.63L40.5 447.01L41.5 448.06L42.5 447.33L43.5 447.49L44.5 448.13L45.5 445.23L46.5 446.2L47.5 446.11L48.5 446.91L49.5 446.6L50.5 446.38L51.5 444.77L52.5 444.92L53.5 443.21L54.5 439.36L55.5 435.97L56.5 433.53L57.5 428.33L58.5 421.17L59.5 415.13L60.5 406.85L61.5 398.6L62.5 390.24L63.5 383.44L64.5 375.71L65.5 368.33L66.5 362.23L67.5 357.55L68.5 354.47L69.5 351.52L70.5 346.76L71.5 345.31L72.5 351.57L73.5 363.76L74.5 379.25L75.5 390.69L76.5 402.43L77.5 412.39L78.5 421.73L79.5 430.5L80.5 435.3L81.5 439.99L82.5 445.28L83.5 445.24L84.5 448L85.5 449.08L86.5 450.22L87.5 450.87L88.5 451.5H134.6" fill="none" stroke="#3c3c3c" stroke-width="1.4" stroke-linejoin="round"/>
<path d="M14.4 338.1V451.8" fill="none" stroke="#222" stroke-width="1.6"/>
<path d="M12.4 451.8H134.6" fill="none" stroke="#2a2a2a" stroke-width="1.5"/>
<path d="M14.4 451.8v2.2M23.45 451.8v1.2M28.74 451.8v1.2M32.49 451.8v1.2M35.4 451.8v1.2M37.78 451.8v1.2M39.8 451.8v1.2M41.54 451.8v1.2M43.07 451.8v1.2M44.45 451.8v2.2M53.5 451.8v1.2M58.79 451.8v1.2M62.54 451.8v1.2M65.45 451.8v1.2M67.83 451.8v1.2M69.85 451.8v1.2M71.59 451.8v1.2M73.12 451.8v1.2M74.5 451.8v2.2M83.55 451.8v1.2M88.84 451.8v1.2M92.59 451.8v1.2M95.5 451.8v1.2M97.88 451.8v1.2M99.9 451.8v1.2M101.64 451.8v1.2M103.17 451.8v1.2M104.55 451.8v2.2M113.6 451.8v1.2M118.89 451.8v1.2M122.64 451.8v1.2M125.55 451.8v1.2M127.93 451.8v1.2M129.95 451.8v1.2M131.69 451.8v1.2M133.22 451.8v1.2M134.6 451.8v2.2" stroke="#777" stroke-width="0.7" fill="none"/>
<text x="16.6" y="464.7" font-size="6.3" fill="#777">10<tspan dy="-2.9" font-size="5.4">0</tspan></text>
<text x="42.2" y="464.7" font-size="6.3" fill="#777">10<tspan dy="-2.9" font-size="5.4">1</tspan></text>
<text x="72" y="464.7" font-size="6.3" fill="#777">10<tspan dy="-2.9" font-size="5.4">2</tspan></text>
<text x="100.7" y="464.7" font-size="6.3" fill="#777">10<tspan dy="-2.9" font-size="5.4">3</tspan></text>
<text x="131.3" y="464.7" font-size="6.3" fill="#777">10<tspan dy="-2.9" font-size="5.4">4</tspan></text>
<text x="5.8" y="452.6" font-size="6" fill="#777">0</text>
<text x="37.3" y="500.2" font-size="22.4" font-weight="bold" textLength="57.7" lengthAdjust="spacingAndGlyphs">CD83</text>
<path d="M183.1 451.8L183.3 395.5L184.3 385.66L185.3 377.27L186.3 369.55L187.3 361.68L188.3 355.77L189.3 350.73L190.3 347.67L191.3 342.99L192.3 343.19L193.3 342.63L194.3 347.94L195.3 353.69L196.3 364.25L197.3 372.1L198.3 382.87L199.3 393.06L200.3 401.85L201.3 410.14L202.3 417.56L203.3 425.08L204.3 432L205.3 436.96L206.3 440.36L207.3 443.76L208.3 445.76L209.3 447.55L210.3 448.34L211.3 449.15L212.3 450.31L213.3 451.8L213.3 451.8Z" fill="#ebebeb" stroke="none"/>
<path d="M183.3 395.5L184.3 385.66L185.3 377.27L186.3 369.55L187.3 361.68L188.3 355.77L189.3 350.73L190.3 347.67L191.3 342.99L192.3 343.19L193.3 342.63L194.3 347.94L195.3 353.69L196.3 364.25L197.3 372.1L198.3 382.87L199.3 393.06L200.3 401.85L201.3 410.14L202.3 417.56L203.3 425.08L204.3 432L205.3 436.96L206.3 440.36L207.3 443.76L208.3 445.76L209.3 447.55L210.3 448.34L211.3 449.15L212.3 450.31L213.3 451.8" fill="none" stroke="#999" stroke-width="1.3" stroke-linejoin="round"/>
<path d="M183.1 338.6V333.6H303V451.8" fill="none" stroke="#8e8e8e" stroke-width="1.4"/>
<path d="M183.6 450L184.6 449.32L185.6 449.16L186.6 447.75L187.6 446.87L188.6 445.05L189.6 444.68L190.6 444.16L191.6 443.89L192.6 442.56L193.6 441.31L194.6 439.67L195.6 437.07L196.6 434.09L197.6 434.01L198.6 429.88L199.6 425.75L200.6 419.9L201.6 415.77L202.6 409.69L203.6 403.16L204.6 396.1L205.6 388.61L206.6 381.84L207.6 374.48L208.6 369.87L209.6 365.21L210.6 361.49L211.6 356.46L212.6 351.4L213.6 350.22L214.6 351.2L215.6 353.41L216.6 353.56L217.6 353.73L218.6 358.08L219.6 364.07L220.6 368.78L221.6 374.04L222.6 380.65L223.6 386.38L224.6 394.05L225.6 402.26L226.6 411.35L227.6 417.61L228.6 424.19L229.6 428.98L230.6 434.95L231.6 438.19L232.6 443.62L233.6 445.85L234.6 446.91L235.6 448.77L236.6 449.99L237.6 451.5L238.6 451.5H303" fill="none" stroke="#3c3c3c" stroke-width="1.4" stroke-linejoin="round"/>
<path d="M183.1 337.6V451.8" fill="none" stroke="#222" stroke-width="1.6"/>
<path d="M183.4 395V451.8" fill="none" stroke="#222" stroke-width="1.6"/>
<path d="M181.1 451.8H303" fill="none" stroke="#2a2a2a" stroke-width="1.5"/>
<path d="M183.1 451.8v2.2M192.12 451.8v1.2M197.4 451.8v1.2M201.15 451.8v1.2M204.05 451.8v1.2M206.43 451.8v1.2M208.43 451.8v1.2M210.17 451.8v1.2M211.7 451.8v1.2M213.07 451.8v2.2M222.1 451.8v1.2M227.38 451.8v1.2M231.12 451.8v1.2M234.03 451.8v1.2M236.4 451.8v1.2M238.41 451.8v1.2M240.15 451.8v1.2M241.68 451.8v1.2M243.05 451.8v2.2M252.07 451.8v1.2M257.35 451.8v1.2M261.1 451.8v1.2M264 451.8v1.2M266.38 451.8v1.2M268.38 451.8v1.2M270.12 451.8v1.2M271.65 451.8v1.2M273.02 451.8v2.2M282.05 451.8v1.2M287.33 451.8v1.2M291.07 451.8v1.2M293.98 451.8v1.2M296.35 451.8v1.2M298.36 451.8v1.2M300.1 451.8v1.2M301.63 451.8v1.2M303 451.8v2.2" stroke="#777" stroke-width="0.7" fill="none"/>
<text x="185.3" y="464.7" font-size="6.3" fill="#777">10<tspan dy="-2.9" font-size="5.4">0</tspan></text>
<text x="210.9" y="464.7" font-size="6.3" fill="#777">10<tspan dy="-2.9" font-size="5.4">1</tspan></text>
<text x="240.7" y="464.7" font-size="6.3" fill="#777">10<tspan dy="-2.9" font-size="5.4">2</tspan></text>
<text x="269.4" y="464.7" font-size="6.3" fill="#777">10<tspan dy="-2.9" font-size="5.4">3</tspan></text>
<text x="300" y="464.7" font-size="6.3" fill="#777">10<tspan dy="-2.9" font-size="5.4">4</tspan></text>
<text x="174.5" y="452.6" font-size="6" fill="#777">0</text>
<text x="207.5" y="500.2" font-size="22.4" font-weight="bold" textLength="55" lengthAdjust="spacingAndGlyphs">CD80</text>
<path d="M351.3 451.8L351.5 390.5L352.5 385.09L353.5 380.13L354.5 375.68L355.5 373.11L356.5 367.22L357.5 363.92L358.5 359.5L359.5 359.7L360.5 361.65L361.5 358.5L362.5 352.82L363.5 353.31L364.5 356.85L365.5 356.81L366.5 356.78L367.5 361.81L368.5 371.46L369.5 383.63L370.5 395.69L371.5 404.92L372.5 412.6L373.5 421.2L374.5 427.88L375.5 434.73L376.5 438.61L377.5 442.95L378.5 446.6L379.5 449.63L380.5 450.77L381.5 451.8L381.5 451.8Z" fill="#ebebeb" stroke="none"/>
<path d="M351.5 390.5L352.5 385.09L353.5 380.13L354.5 375.68L355.5 373.11L356.5 367.22L357.5 363.92L358.5 359.5L359.5 359.7L360.5 361.65L361.5 358.5L362.5 352.82L363.5 353.31L364.5 356.85L365.5 356.81L366.5 356.78L367.5 361.81L368.5 371.46L369.5 383.63L370.5 395.69L371.5 404.92L372.5 412.6L373.5 421.2L374.5 427.88L375.5 434.73L376.5 438.61L377.5 442.95L378.5 446.6L379.5 449.63L380.5 450.77L381.5 451.8" fill="none" stroke="#999" stroke-width="1.3" stroke-linejoin="round"/>
<path d="M351.3 338.6V333.6H472V451.8" fill="none" stroke="#8e8e8e" stroke-width="1.4"/>
<path d="M351.6 451.4L352.6 451.35L353.6 451.5L354.6 451.5L355.6 450.4L356.6 451.5L357.6 451.5L358.6 451.5L359.6 451.5L360.6 451.28L361.6 451.38L362.6 450.94L363.6 451.5L364.6 451.14L365.6 451.34L366.6 451.5L367.6 450.78L368.6 451.5L369.6 450.73L370.6 451.08L371.6 450.74L372.6 451.5L373.6 451.38L374.6 451.04L375.6 450.93L376.6 450.92L377.6 450.7L378.6 450.79L379.6 450.9L380.6 450.08L381.6 449.99L382.6 449.3L383.6 448.85L384.6 449.04L385.6 449.32L386.6 447.74L387.6 446.72L388.6 446.83L389.6 446.79L390.6 445.57L391.6 445.42L392.6 444.28L393.6 442.46L394.6 441.29L395.6 440.88L396.6 439.46L397.6 437.54L398.6 436.3L399.6 433.16L400.6 432.54L401.6 429.6L402.6 427.43L403.6 423.92L404.6 421.64L405.6 419.43L406.6 416.34L407.6 415.54L408.6 414.4L409.6 412.42L410.6 412.52L411.6 411.73L412.6 410.37L413.6 409.85L414.6 408.19L415.6 407.01L416.6 404.29L417.6 401.55L418.6 397.75L419.6 394.93L420.6 390.49L421.6 387.77L422.6 382.07L423.6 378.35L424.6 372.89L425.6 366.6L426.6 359.03L427.6 351.53L428.6 346.26L429.6 345.73L430.6 351.71L431.6 351.89L432.6 352.8L433.6 354.05L434.6 360.63L435.6 370.54L436.6 378.93L437.6 388.06L438.6 398.31L439.6 406.11L440.6 414.94L441.6 421.58L442.6 428.54L443.6 434.06L444.6 439.41L445.6 442.33L446.6 445.21L447.6 447.6L448.6 449.02L449.6 451.27L450.6 451.5H472" fill="none" stroke="#3c3c3c" stroke-width="1.4" stroke-linejoin="round"/>
<path d="M351.3 337.6V451.8" fill="none" stroke="#222" stroke-width="1.6"/>
<path d="M349.3 451.8H472" fill="none" stroke="#2a2a2a" stroke-width="1.5"/>
<path d="M351.3 451.8v2.2M360.38 451.8v1.2M365.7 451.8v1.2M369.47 451.8v1.2M372.39 451.8v1.2M374.78 451.8v1.2M376.8 451.8v1.2M378.55 451.8v1.2M380.09 451.8v1.2M381.48 451.8v2.2M390.56 451.8v1.2M395.87 451.8v1.2M399.64 451.8v1.2M402.57 451.8v1.2M404.96 451.8v1.2M406.98 451.8v1.2M408.73 451.8v1.2M410.27 451.8v1.2M411.65 451.8v2.2M420.73 451.8v1.2M426.05 451.8v1.2M429.82 451.8v1.2M432.74 451.8v1.2M435.13 451.8v1.2M437.15 451.8v1.2M438.9 451.8v1.2M440.44 451.8v1.2M441.82 451.8v2.2M450.91 451.8v1.2M456.22 451.8v1.2M459.99 451.8v1.2M462.92 451.8v1.2M465.31 451.8v1.2M467.33 451.8v1.2M469.08 451.8v1.2M470.62 451.8v1.2M472 451.8v2.2" stroke="#777" stroke-width="0.7" fill="none"/>
<text x="353.5" y="464.7" font-size="6.3" fill="#777">10<tspan dy="-2.9" font-size="5.4">0</tspan></text>
<text x="379.1" y="464.7" font-size="6.3" fill="#777">10<tspan dy="-2.9" font-size="5.4">1</tspan></text>
<text x="408.9" y="464.7" font-size="6.3" fill="#777">10<tspan dy="-2.9" font-size="5.4">2</tspan></text>
<text x="437.6" y="464.7" font-size="6.3" fill="#777">10<tspan dy="-2.9" font-size="5.4">3</tspan></text>
<text x="468.2" y="464.7" font-size="6.3" fill="#777">10<tspan dy="-2.9" font-size="5.4">4</tspan></text>
<text x="342.7" y="452.6" font-size="6" fill="#777">0</text>
<text x="376" y="500.2" font-size="22.4" font-weight="bold" textLength="56.5" lengthAdjust="spacingAndGlyphs">CD86</text>
<path d="M534.3 453L534.5 398L535.5 386.31L536.5 376.96L537.5 367.75L538.5 358.51L539.5 352.06L540.5 347.52L541.5 344.76L542.5 342.73L543.5 346.01L544.5 351.33L545.5 358.94L546.5 368.78L547.5 377.24L548.5 387.16L549.5 396.17L550.5 404.88L551.5 413.19L552.5 421.3L553.5 426.67L554.5 432.85L555.5 438.11L556.5 442.31L557.5 445.38L558.5 447.45L559.5 449.34L560.5 451.15L561.5 451.07L562.5 452.65L563.5 453L563.5 453Z" fill="#ebebeb" stroke="none"/>
<path d="M534.5 398L535.5 386.31L536.5 376.96L537.5 367.75L538.5 358.51L539.5 352.06L540.5 347.52L541.5 344.76L542.5 342.73L543.5 346.01L544.5 351.33L545.5 358.94L546.5 368.78L547.5 377.24L548.5 387.16L549.5 396.17L550.5 404.88L551.5 413.19L552.5 421.3L553.5 426.67L554.5 432.85L555.5 438.11L556.5 442.31L557.5 445.38L558.5 447.45L559.5 449.34L560.5 451.15L561.5 451.07L562.5 452.65L563.5 453" fill="none" stroke="#999" stroke-width="1.3" stroke-linejoin="round"/>
<path d="M534.3 340.5V335.5H655V453" fill="none" stroke="#8e8e8e" stroke-width="1.4"/>
<path d="M534.8 451.5L535.8 450.89L536.8 450.18L537.8 449.63L538.8 449.65L539.8 448L540.8 446.57L541.8 444.56L542.8 443.91L543.8 441.88L544.8 438.95L545.8 435.07L546.8 432.46L547.8 428.61L548.8 425.26L549.8 419.92L550.8 417.28L551.8 414.57L552.8 410.64L553.8 406.04L554.8 403.52L555.8 398.95L556.8 396.44L557.8 391.32L558.8 387.88L559.8 383.7L560.8 381.09L561.8 378.53L562.8 377.73L563.8 371.99L564.8 365.19L565.8 358.77L566.8 355.79L567.8 353.69L568.8 353.11L569.8 349.89L570.8 348.92L571.8 349.78L572.8 352.32L573.8 355.05L574.8 357.1L575.8 362.48L576.8 371.27L577.8 381.92L578.8 390.35L579.8 400.93L580.8 410.91L581.8 419.71L582.8 428.14L583.8 433.38L584.8 440.97L585.8 443.91L586.8 446.5L587.8 448.98L588.8 451.32L589.8 452.18L590.8 452.7H655" fill="none" stroke="#3c3c3c" stroke-width="1.4" stroke-linejoin="round"/>
<path d="M534.3 339.5V453" fill="none" stroke="#222" stroke-width="1.6"/>
<path d="M534.6 400V453" fill="none" stroke="#222" stroke-width="1.6"/>
<path d="M532.3 453H655" fill="none" stroke="#2a2a2a" stroke-width="1.5"/>
<path d="M534.3 453v2.2M543.38 453v1.2M548.7 453v1.2M552.47 453v1.2M555.39 453v1.2M557.78 453v1.2M559.8 453v1.2M561.55 453v1.2M563.09 453v1.2M564.47 453v2.2M573.56 453v1.2M578.87 453v1.2M582.64 453v1.2M585.57 453v1.2M587.96 453v1.2M589.98 453v1.2M591.73 453v1.2M593.27 453v1.2M594.65 453v2.2M603.73 453v1.2M609.05 453v1.2M612.82 453v1.2M615.74 453v1.2M618.13 453v1.2M620.15 453v1.2M621.9 453v1.2M623.44 453v1.2M624.83 453v2.2M633.91 453v1.2M639.22 453v1.2M642.99 453v1.2M645.92 453v1.2M648.31 453v1.2M650.33 453v1.2M652.08 453v1.2M653.62 453v1.2M655 453v2.2" stroke="#777" stroke-width="0.7" fill="none"/>
<text x="536.5" y="465.9" font-size="6.3" fill="#777">10<tspan dy="-2.9" font-size="5.4">0</tspan></text>
<text x="562.1" y="465.9" font-size="6.3" fill="#777">10<tspan dy="-2.9" font-size="5.4">1</tspan></text>
<text x="591.9" y="465.9" font-size="6.3" fill="#777">10<tspan dy="-2.9" font-size="5.4">2</tspan></text>
<text x="620.6" y="465.9" font-size="6.3" fill="#777">10<tspan dy="-2.9" font-size="5.4">3</tspan></text>
<text x="651.2" y="465.9" font-size="6.3" fill="#777">10<tspan dy="-2.9" font-size="5.4">4</tspan></text>
<text x="525.7" y="453.8" font-size="6" fill="#777">0</text>
<text x="569" y="500.2" font-size="22.4" font-weight="bold" textLength="58.5" lengthAdjust="spacingAndGlyphs">CD40</text>
<path d="M701.3 451.8L701.5 375.5L702.5 369.2L703.5 363.54L704.5 362.35L705.5 359.29L706.5 355.65L707.5 348.74L708.5 342.13L709.5 343.92L710.5 352.23L711.5 358.67L712.5 365.71L713.5 375.12L714.5 388.91L715.5 400.83L716.5 409.52L717.5 418.78L718.5 424.92L719.5 430.81L720.5 435.14L721.5 439.05L722.5 441.88L723.5 444.74L724.5 446.75L725.5 447.94L726.5 450.39L727.5 451.45L728.5 451.8L729.5 451.8L729.5 451.8Z" fill="#ebebeb" stroke="none"/>
<path d="M701.5 375.5L702.5 369.2L703.5 363.54L704.5 362.35L705.5 359.29L706.5 355.65L707.5 348.74L708.5 342.13L709.5 343.92L710.5 352.23L711.5 358.67L712.5 365.71L713.5 375.12L714.5 388.91L715.5 400.83L716.5 409.52L717.5 418.78L718.5 424.92L719.5 430.81L720.5 435.14L721.5 439.05L722.5 441.88L723.5 444.74L724.5 446.75L725.5 447.94L726.5 450.39L727.5 451.45L728.5 451.8L729.5 451.8" fill="none" stroke="#999" stroke-width="1.3" stroke-linejoin="round"/>
<path d="M701.3 338.6V333.6H822.5V451.8" fill="none" stroke="#8e8e8e" stroke-width="1.4"/>
<path d="M701.6 451.4L702.6 451.5L703.6 450.91L704.6 450.75L705.6 450.71L706.6 451.47L707.6 451.5L708.6 451.5L709.6 451.3L710.6 451.29L711.6 450.35L712.6 449.57L713.6 451.5L714.6 451.5L715.6 451.47L716.6 450.88L717.6 451.5L718.6 451.3L719.6 450.66L720.6 450.96L721.6 450.68L722.6 450.59L723.6 451.31L724.6 451.5L725.6 451.5L726.6 451.29L727.6 451.47L728.6 450.62L729.6 451.5L730.6 450.71L731.6 451.39L732.6 451.5L733.6 451.5L734.6 451.4L735.6 450.85L736.6 451.5L737.6 451.23L738.6 451.5L739.6 451.5L740.6 451.45L741.6 451.5L742.6 451.11L743.6 451.5L744.6 451.5L745.6 451.33L746.6 451.17L747.6 451.02L748.6 451.34L749.6 451.21L750.6 451.5L751.6 451.5L752.6 451.49L753.6 451.14L754.6 451.23L755.6 449.46L756.6 450.79L757.6 450.47L758.6 448.73L759.6 447.33L760.6 446.42L761.6 445.46L762.6 446.17L763.6 443.09L764.6 439.62L765.6 434.91L766.6 428.06L767.6 423.21L768.6 413.32L769.6 403.35L770.6 391.36L771.6 377.82L772.6 365.34L773.6 355.14L774.6 347.79L775.6 341.78L776.6 341.19L777.6 347.69L778.6 362.09L779.6 384.11L780.6 404.39L781.6 421.22L782.6 434.72L783.6 440.4L784.6 445.83L785.6 448.22L786.6 449.58L787.6 449.86L788.6 450.65L789.6 451.5H822.5" fill="none" stroke="#3c3c3c" stroke-width="1.4" stroke-linejoin="round"/>
<path d="M701.3 337.6V451.8" fill="none" stroke="#222" stroke-width="1.6"/>
<path d="M701.6 338V451.8" fill="none" stroke="#222" stroke-width="1.6"/>
<path d="M699.3 451.8H822.5" fill="none" stroke="#2a2a2a" stroke-width="1.5"/>
<path d="M701.3 451.8v2.2M710.42 451.8v1.2M715.76 451.8v1.2M719.54 451.8v1.2M722.48 451.8v1.2M724.88 451.8v1.2M726.91 451.8v1.2M728.66 451.8v1.2M730.21 451.8v1.2M731.6 451.8v2.2M740.72 451.8v1.2M746.06 451.8v1.2M749.84 451.8v1.2M752.78 451.8v1.2M755.18 451.8v1.2M757.21 451.8v1.2M758.96 451.8v1.2M760.51 451.8v1.2M761.9 451.8v2.2M771.02 451.8v1.2M776.36 451.8v1.2M780.14 451.8v1.2M783.08 451.8v1.2M785.48 451.8v1.2M787.51 451.8v1.2M789.26 451.8v1.2M790.81 451.8v1.2M792.2 451.8v2.2M801.32 451.8v1.2M806.66 451.8v1.2M810.44 451.8v1.2M813.38 451.8v1.2M815.78 451.8v1.2M817.81 451.8v1.2M819.56 451.8v1.2M821.11 451.8v1.2M822.5 451.8v2.2" stroke="#777" stroke-width="0.7" fill="none"/>
<text x="703.5" y="464.7" font-size="6.3" fill="#777">10<tspan dy="-2.9" font-size="5.4">0</tspan></text>
<text x="729.1" y="464.7" font-size="6.3" fill="#777">10<tspan dy="-2.9" font-size="5.4">1</tspan></text>
<text x="758.9" y="464.7" font-size="6.3" fill="#777">10<tspan dy="-2.9" font-size="5.4">2</tspan></text>
<text x="787.6" y="464.7" font-size="6.3" fill="#777">10<tspan dy="-2.9" font-size="5.4">3</tspan></text>
<text x="818.2" y="464.7" font-size="6.3" fill="#777">10<tspan dy="-2.9" font-size="5.4">4</tspan></text>
<text x="692.7" y="452.6" font-size="6" fill="#777">0</text>
<text x="722.5" y="500.2" font-size="22.4" font-weight="bold" textLength="86" lengthAdjust="spacingAndGlyphs">HLA-DR</text>
<path d="M870 451.8L870.2 408L871.2 399.24L872.2 390.51L873.2 382.96L874.2 374.58L875.2 367.08L876.2 359.95L877.2 354.93L878.2 350.15L879.2 347.4L880.2 344.31L881.2 343.22L882.2 344.48L883.2 351.33L884.2 357.52L885.2 366.97L886.2 377.78L887.2 388.94L888.2 403.44L889.2 415.2L890.2 424.37L891.2 430.27L892.2 434.87L893.2 440.02L894.2 442.65L895.2 444.25L896.2 446.32L897.2 448.05L898.2 448.22L899.2 449.3L900.2 450.29L901.2 451.8L901.2 451.8Z" fill="#ebebeb" stroke="none"/>
<path d="M870.2 408L871.2 399.24L872.2 390.51L873.2 382.96L874.2 374.58L875.2 367.08L876.2 359.95L877.2 354.93L878.2 350.15L879.2 347.4L880.2 344.31L881.2 343.22L882.2 344.48L883.2 351.33L884.2 357.52L885.2 366.97L886.2 377.78L887.2 388.94L888.2 403.44L889.2 415.2L890.2 424.37L891.2 430.27L892.2 434.87L893.2 440.02L894.2 442.65L895.2 444.25L896.2 446.32L897.2 448.05L898.2 448.22L899.2 449.3L900.2 450.29L901.2 451.8" fill="none" stroke="#999" stroke-width="1.3" stroke-linejoin="round"/>
<path d="M870 338.6V333.6H990.7V451.8" fill="none" stroke="#8e8e8e" stroke-width="1.4"/>
<path d="M870.3 451.4L871.3 450.95L872.3 451.5L873.3 451.5L874.3 451.34L875.3 450.98L876.3 451.15L877.3 450.67L878.3 450.12L879.3 451.29L880.3 451.5L881.3 451.5L882.3 448.89L883.3 450.42L884.3 449.63L885.3 449L886.3 448.72L887.3 447.66L888.3 446.31L889.3 445.7L890.3 443.79L891.3 442.22L892.3 439.79L893.3 435.63L894.3 432.26L895.3 425.45L896.3 419.31L897.3 411.88L898.3 402.23L899.3 392.13L900.3 379.61L901.3 368.22L902.3 358.43L903.3 352.17L904.3 348.18L905.3 345.55L906.3 348.66L907.3 356.28L908.3 366.32L909.3 383.19L910.3 396.59L911.3 413.13L912.3 427.32L913.3 434.66L914.3 441.29L915.3 445.26L916.3 447.35L917.3 450L918.3 450.48L919.3 451.5H990.7" fill="none" stroke="#3c3c3c" stroke-width="1.4" stroke-linejoin="round"/>
<path d="M870 337.6V451.8" fill="none" stroke="#222" stroke-width="1.6"/>
<path d="M870.3 345V451.8" fill="none" stroke="#222" stroke-width="1.6"/>
<path d="M868 451.8H990.7" fill="none" stroke="#2a2a2a" stroke-width="1.5"/>
<path d="M870 451.8v2.2M879.08 451.8v1.2M884.4 451.8v1.2M888.17 451.8v1.2M891.09 451.8v1.2M893.48 451.8v1.2M895.5 451.8v1.2M897.25 451.8v1.2M898.79 451.8v1.2M900.17 451.8v2.2M909.26 451.8v1.2M914.57 451.8v1.2M918.34 451.8v1.2M921.27 451.8v1.2M923.66 451.8v1.2M925.68 451.8v1.2M927.43 451.8v1.2M928.97 451.8v1.2M930.35 451.8v2.2M939.43 451.8v1.2M944.75 451.8v1.2M948.52 451.8v1.2M951.44 451.8v1.2M953.83 451.8v1.2M955.85 451.8v1.2M957.6 451.8v1.2M959.14 451.8v1.2M960.53 451.8v2.2M969.61 451.8v1.2M974.92 451.8v1.2M978.69 451.8v1.2M981.62 451.8v1.2M984.01 451.8v1.2M986.03 451.8v1.2M987.78 451.8v1.2M989.32 451.8v1.2M990.7 451.8v2.2" stroke="#777" stroke-width="0.7" fill="none"/>
<text x="872.2" y="464.7" font-size="6.3" fill="#777">10<tspan dy="-2.9" font-size="5.4">0</tspan></text>
<text x="897.8" y="464.7" font-size="6.3" fill="#777">10<tspan dy="-2.9" font-size="5.4">1</tspan></text>
<text x="927.6" y="464.7" font-size="6.3" fill="#777">10<tspan dy="-2.9" font-size="5.4">2</tspan></text>
<text x="956.3" y="464.7" font-size="6.3" fill="#777">10<tspan dy="-2.9" font-size="5.4">3</tspan></text>
<text x="986.9" y="464.7" font-size="6.3" fill="#777">10<tspan dy="-2.9" font-size="5.4">4</tspan></text>
<text x="861.4" y="452.6" font-size="6" fill="#777">0</text>
<text x="904" y="500.2" font-size="22.4" font-weight="bold" textLength="61" lengthAdjust="spacingAndGlyphs">CCR7</text>
</svg></body></html>
